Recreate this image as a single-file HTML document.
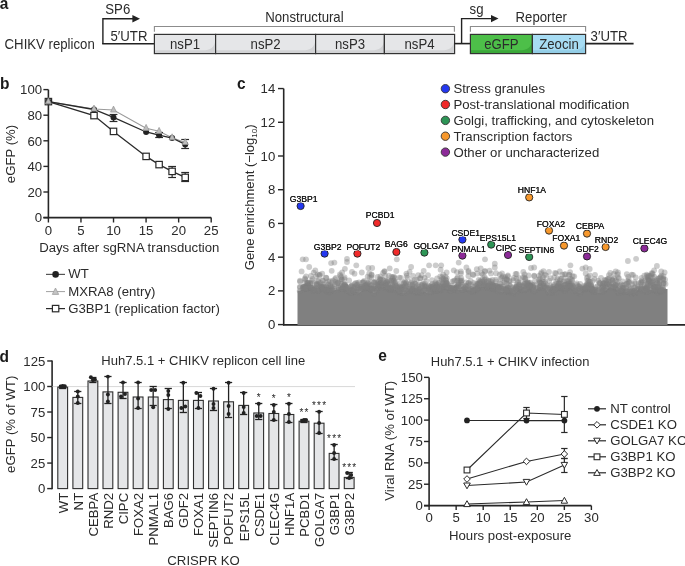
<!DOCTYPE html>
<html><head><meta charset="utf-8"><style>
html,body{margin:0;padding:0;background:#fff;}
svg{display:block;will-change:transform;font-family:"Liberation Sans",sans-serif;}
</style></head><body>
<svg width="685" height="566" viewBox="0 0 685 566">
<text transform="translate(-0.3,8.8) scale(1,1.012)" font-size="15.5" text-anchor="start" font-weight="bold" fill="#1a1a1a" >a</text>
<text transform="translate(4.6,48.6) scale(1,1.04)" font-size="13.2" text-anchor="start" font-weight="normal" fill="#2b2b2b" >CHIKV replicon</text>
<text transform="translate(105.3,14.2) scale(1,1.04)" font-size="13.2" text-anchor="start" font-weight="normal" fill="#2b2b2b" >SP6</text>
<path d="M102.9,44 V18.7 H134" stroke="#222" stroke-width="1.4" fill="none" />
<polygon points="132.4,14.9 140,18.7 132.4,22.4" fill="#222"/>
<text transform="translate(110.5,41.2) scale(1,1.04)" font-size="13.2" text-anchor="start" font-weight="normal" fill="#2b2b2b" >5′UTR</text>
<line x1="102.2" y1="43.7" x2="155" y2="43.7" stroke="#222" stroke-width="1.6" />
<path d="M154.4,31.8 V26.5 H454.4 V31.8" stroke="#8c8c8c" stroke-width="1.1" fill="none" />
<text transform="translate(265.2,21.7) scale(1,1.04)" font-size="13.2" text-anchor="start" font-weight="normal" fill="#2b2b2b" >Nonstructural</text>
<rect x="154.4" y="34.4" width="61.19999999999999" height="19.200000000000003" fill="#e5e6e8"/>
<path d="M154.4,50.2 H202.6 C210.6,50.2 214.6,47.6 215.6,38.9 V53.6 H154.4 Z" fill="#d2d3d5"/>
<rect x="154.4" y="34.4" width="61.19999999999999" height="19.200000000000003" fill="none" stroke="#333" stroke-width="1.2"/>
<text transform="translate(185.0,48.6) scale(1,1.04)" font-size="13.2" text-anchor="middle" font-weight="normal" fill="#2b2b2b" >nsP1</text>
<rect x="215.6" y="34.4" width="100.00000000000003" height="19.200000000000003" fill="#e5e6e8"/>
<path d="M215.6,50.2 H302.6 C310.6,50.2 314.6,47.6 315.6,38.9 V53.6 H215.6 Z" fill="#d2d3d5"/>
<rect x="215.6" y="34.4" width="100.00000000000003" height="19.200000000000003" fill="none" stroke="#333" stroke-width="1.2"/>
<text transform="translate(265.6,48.6) scale(1,1.04)" font-size="13.2" text-anchor="middle" font-weight="normal" fill="#2b2b2b" >nsP2</text>
<rect x="315.6" y="34.4" width="68.79999999999995" height="19.200000000000003" fill="#e5e6e8"/>
<path d="M315.6,50.2 H371.4 C379.4,50.2 383.4,47.6 384.4,38.9 V53.6 H315.6 Z" fill="#d2d3d5"/>
<rect x="315.6" y="34.4" width="68.79999999999995" height="19.200000000000003" fill="none" stroke="#333" stroke-width="1.2"/>
<text transform="translate(350.0,48.6) scale(1,1.04)" font-size="13.2" text-anchor="middle" font-weight="normal" fill="#2b2b2b" >nsP3</text>
<rect x="384.4" y="34.4" width="70.20000000000005" height="19.200000000000003" fill="#e5e6e8"/>
<path d="M384.4,50.2 H441.6 C449.6,50.2 453.6,47.6 454.6,38.9 V53.6 H384.4 Z" fill="#d2d3d5"/>
<rect x="384.4" y="34.4" width="70.20000000000005" height="19.200000000000003" fill="none" stroke="#333" stroke-width="1.2"/>
<text transform="translate(419.5,48.6) scale(1,1.04)" font-size="13.2" text-anchor="middle" font-weight="normal" fill="#2b2b2b" >nsP4</text>
<line x1="454.6" y1="43.6" x2="470.4" y2="43.6" stroke="#222" stroke-width="1.6" />
<path d="M461.6,43.6 V18.6 H492" stroke="#222" stroke-width="1.4" fill="none" />
<polygon points="491,15 498.5,18.6 491,22.2" fill="#222"/>
<text transform="translate(469.6,14.2) scale(1,1.04)" font-size="13.2" text-anchor="start" font-weight="normal" fill="#2b2b2b" >sg</text>
<path d="M470.4,31.8 V26.5 H585.6 V31.8" stroke="#8c8c8c" stroke-width="1.1" fill="none" />
<text transform="translate(515.6,21.7) scale(1,1.04)" font-size="13.2" text-anchor="start" font-weight="normal" fill="#2b2b2b" >Reporter</text>
<rect x="470.4" y="34.4" width="62.0" height="19.200000000000003" fill="#4dbf49"/>
<path d="M470.4,50.2 H519.4 C527.4,50.2 531.4,47.6 532.4,38.9 V53.6 H470.4 Z" fill="#3ba83a"/>
<rect x="470.4" y="34.4" width="62.0" height="19.200000000000003" fill="none" stroke="#333" stroke-width="1.2"/>
<text transform="translate(501.4,48.6) scale(1,1.04)" font-size="13.2" text-anchor="middle" font-weight="normal" fill="#2b2b2b" >eGFP</text>
<rect x="532.4" y="34.4" width="53.200000000000045" height="19.200000000000003" fill="#a7dcf3"/>
<path d="M532.4,50.2 H572.6 C580.6,50.2 584.6,47.6 585.6,38.9 V53.6 H532.4 Z" fill="#93cde6"/>
<rect x="532.4" y="34.4" width="53.200000000000045" height="19.200000000000003" fill="none" stroke="#333" stroke-width="1.2"/>
<text transform="translate(559.0,48.6) scale(1,1.04)" font-size="13.2" text-anchor="middle" font-weight="normal" fill="#2b2b2b" >Zeocin</text>
<line x1="585.6" y1="43.6" x2="633.6" y2="43.6" stroke="#222" stroke-width="1.6" />
<text transform="translate(590.6,40.8) scale(1,1.04)" font-size="13.2" text-anchor="start" font-weight="normal" fill="#2b2b2b" >3′UTR</text>
<text transform="translate(0,88.8) scale(1,1.012)" font-size="15.5" text-anchor="start" font-weight="bold" fill="#1a1a1a" >b</text>
<line x1="48.4" y1="89.6" x2="48.4" y2="218.3" stroke="#262626" stroke-width="1.6" />
<line x1="43.4" y1="217.6" x2="211.2" y2="217.6" stroke="#262626" stroke-width="1.6" />
<line x1="43.4" y1="217.6" x2="48.4" y2="217.6" stroke="#262626" stroke-width="1.4" />
<text transform="translate(42.1,222.4) scale(1,1.012)" font-size="13.2" text-anchor="end" font-weight="normal" fill="#2b2b2b" >0</text>
<line x1="43.4" y1="192.0" x2="48.4" y2="192.0" stroke="#262626" stroke-width="1.4" />
<text transform="translate(42.1,196.8) scale(1,1.012)" font-size="13.2" text-anchor="end" font-weight="normal" fill="#2b2b2b" >20</text>
<line x1="43.4" y1="166.39999999999998" x2="48.4" y2="166.39999999999998" stroke="#262626" stroke-width="1.4" />
<text transform="translate(42.1,171.2) scale(1,1.012)" font-size="13.2" text-anchor="end" font-weight="normal" fill="#2b2b2b" >40</text>
<line x1="43.4" y1="140.8" x2="48.4" y2="140.8" stroke="#262626" stroke-width="1.4" />
<text transform="translate(42.1,145.60000000000002) scale(1,1.012)" font-size="13.2" text-anchor="end" font-weight="normal" fill="#2b2b2b" >60</text>
<line x1="43.4" y1="115.19999999999999" x2="48.4" y2="115.19999999999999" stroke="#262626" stroke-width="1.4" />
<text transform="translate(42.1,119.99999999999999) scale(1,1.012)" font-size="13.2" text-anchor="end" font-weight="normal" fill="#2b2b2b" >80</text>
<line x1="43.4" y1="89.6" x2="48.4" y2="89.6" stroke="#262626" stroke-width="1.4" />
<text transform="translate(42.1,94.39999999999999) scale(1,1.012)" font-size="13.2" text-anchor="end" font-weight="normal" fill="#2b2b2b" >100</text>
<line x1="48.4" y1="217.6" x2="48.4" y2="222.5" stroke="#262626" stroke-width="1.4" />
<text transform="translate(48.4,234.6) scale(1,1.012)" font-size="13.2" text-anchor="middle" font-weight="normal" fill="#2b2b2b" >0</text>
<line x1="80.96" y1="217.6" x2="80.96" y2="222.5" stroke="#262626" stroke-width="1.4" />
<text transform="translate(80.96,234.6) scale(1,1.012)" font-size="13.2" text-anchor="middle" font-weight="normal" fill="#2b2b2b" >5</text>
<line x1="113.51999999999998" y1="217.6" x2="113.51999999999998" y2="222.5" stroke="#262626" stroke-width="1.4" />
<text transform="translate(113.51999999999998,234.6) scale(1,1.012)" font-size="13.2" text-anchor="middle" font-weight="normal" fill="#2b2b2b" >10</text>
<line x1="146.07999999999998" y1="217.6" x2="146.07999999999998" y2="222.5" stroke="#262626" stroke-width="1.4" />
<text transform="translate(146.07999999999998,234.6) scale(1,1.012)" font-size="13.2" text-anchor="middle" font-weight="normal" fill="#2b2b2b" >15</text>
<line x1="178.64" y1="217.6" x2="178.64" y2="222.5" stroke="#262626" stroke-width="1.4" />
<text transform="translate(178.64,234.6) scale(1,1.012)" font-size="13.2" text-anchor="middle" font-weight="normal" fill="#2b2b2b" >20</text>
<line x1="211.2" y1="217.6" x2="211.2" y2="222.5" stroke="#262626" stroke-width="1.4" />
<text transform="translate(211.2,234.6) scale(1,1.012)" font-size="13.2" text-anchor="middle" font-weight="normal" fill="#2b2b2b" >25</text>
<text transform="translate(129.3,251.7) scale(1,1.012)" font-size="13.2" text-anchor="middle" font-weight="normal" fill="#2b2b2b" >Days after sgRNA transduction</text>
<text transform="translate(15.3,154) rotate(-90) scale(1,1.012)" font-size="13.2" text-anchor="middle" fill="#2b2b2b">eGFP (%)</text>
<polyline points="48.4,101.6 94.0,109.0 113.5,110.0 146.1,128.3 159.1,131.3 172.1,137.7 185.2,142.4" fill="none" stroke="#9a9a9a" stroke-width="1.1"/>
<polyline points="48.4,101.6 94.0,109.5 113.5,117.4 146.1,132.0 159.1,135.2 172.1,138.0 185.2,144.4" fill="none" stroke="#2a2a2a" stroke-width="1.3"/>
<polyline points="48.4,101.6 94.0,115.6 113.5,131.4 146.1,156.4 159.1,164.6 172.1,171.4 185.2,177.4" fill="none" stroke="#2a2a2a" stroke-width="1.3"/>
<line x1="113.51999999999998" y1="114.5" x2="113.51999999999998" y2="121.5" stroke="#2a2a2a" stroke-width="1.2" />
<line x1="109.61999999999998" y1="114.5" x2="117.41999999999999" y2="114.5" stroke="#2a2a2a" stroke-width="1.2" />
<line x1="109.61999999999998" y1="121.5" x2="117.41999999999999" y2="121.5" stroke="#2a2a2a" stroke-width="1.2" />
<line x1="159.10399999999998" y1="132.5" x2="159.10399999999998" y2="137.5" stroke="#2a2a2a" stroke-width="1.2" />
<line x1="155.20399999999998" y1="132.5" x2="163.004" y2="132.5" stroke="#2a2a2a" stroke-width="1.2" />
<line x1="155.20399999999998" y1="137.5" x2="163.004" y2="137.5" stroke="#2a2a2a" stroke-width="1.2" />
<line x1="185.152" y1="139.5" x2="185.152" y2="148.5" stroke="#2a2a2a" stroke-width="1.2" />
<line x1="181.25199999999998" y1="139.5" x2="189.052" y2="139.5" stroke="#2a2a2a" stroke-width="1.2" />
<line x1="181.25199999999998" y1="148.5" x2="189.052" y2="148.5" stroke="#2a2a2a" stroke-width="1.2" />
<line x1="172.128" y1="166.5" x2="172.128" y2="177.5" stroke="#2a2a2a" stroke-width="1.2" />
<line x1="168.22799999999998" y1="166.5" x2="176.028" y2="166.5" stroke="#2a2a2a" stroke-width="1.2" />
<line x1="168.22799999999998" y1="177.5" x2="176.028" y2="177.5" stroke="#2a2a2a" stroke-width="1.2" />
<line x1="185.152" y1="172.5" x2="185.152" y2="181.5" stroke="#2a2a2a" stroke-width="1.2" />
<line x1="181.25199999999998" y1="172.5" x2="189.052" y2="172.5" stroke="#2a2a2a" stroke-width="1.2" />
<line x1="181.25199999999998" y1="181.5" x2="189.052" y2="181.5" stroke="#2a2a2a" stroke-width="1.2" />
<rect x="45.2" y="98.39999999999999" width="6.4" height="6.4" fill="#fff" stroke="#2a2a2a" stroke-width="1.2"/>
<rect x="90.8" y="112.39999999999999" width="6.4" height="6.4" fill="#fff" stroke="#2a2a2a" stroke-width="1.2"/>
<rect x="110.3" y="128.20000000000002" width="6.4" height="6.4" fill="#fff" stroke="#2a2a2a" stroke-width="1.2"/>
<rect x="142.9" y="153.20000000000002" width="6.4" height="6.4" fill="#fff" stroke="#2a2a2a" stroke-width="1.2"/>
<rect x="155.9" y="161.4" width="6.4" height="6.4" fill="#fff" stroke="#2a2a2a" stroke-width="1.2"/>
<rect x="168.9" y="168.20000000000002" width="6.4" height="6.4" fill="#fff" stroke="#2a2a2a" stroke-width="1.2"/>
<rect x="182.0" y="174.20000000000002" width="6.4" height="6.4" fill="#fff" stroke="#2a2a2a" stroke-width="1.2"/>
<circle cx="48.4" cy="101.6" r="3" fill="#222"/>
<circle cx="94.0" cy="109.5" r="3" fill="#222"/>
<circle cx="113.5" cy="117.4" r="3" fill="#222"/>
<circle cx="146.1" cy="132" r="3" fill="#222"/>
<circle cx="159.1" cy="135.2" r="3" fill="#222"/>
<circle cx="172.1" cy="138" r="3" fill="#222"/>
<circle cx="185.2" cy="144.4" r="3" fill="#222"/>
<polygon points="48.4,97.69999999999999 45.4,103.69999999999999 51.4,103.69999999999999" fill="#bdbdbd" stroke="#939393" stroke-width="0.7"/>
<polygon points="94.0,105.1 91.0,111.1 97.0,111.1" fill="#bdbdbd" stroke="#939393" stroke-width="0.7"/>
<polygon points="113.5,106.1 110.5,112.1 116.5,112.1" fill="#bdbdbd" stroke="#939393" stroke-width="0.7"/>
<polygon points="146.1,124.4 143.1,130.4 149.1,130.4" fill="#bdbdbd" stroke="#939393" stroke-width="0.7"/>
<polygon points="159.1,127.4 156.1,133.4 162.1,133.4" fill="#bdbdbd" stroke="#939393" stroke-width="0.7"/>
<polygon points="172.1,133.79999999999998 169.1,139.79999999999998 175.1,139.79999999999998" fill="#bdbdbd" stroke="#939393" stroke-width="0.7"/>
<polygon points="185.2,138.5 182.2,144.5 188.2,144.5" fill="#bdbdbd" stroke="#939393" stroke-width="0.7"/>
<line x1="46" y1="274.4" x2="65" y2="274.4" stroke="#555" stroke-width="1.2" />
<circle cx="55.6" cy="274.4" r="3.3" fill="#222"/>
<text transform="translate(68.2,278.2) scale(1,1.012)" font-size="13.2" text-anchor="start" font-weight="normal" fill="#2b2b2b" >WT</text>
<line x1="46" y1="291.6" x2="65" y2="291.6" stroke="#a0a0a0" stroke-width="1.0" />
<polygon points="55.5,288 52.3,294.4 58.7,294.4" fill="#c4c4c4" stroke="#979797" stroke-width="0.7"/>
<text transform="translate(68.2,295.6) scale(1,1.012)" font-size="13.2" text-anchor="start" font-weight="normal" fill="#2b2b2b" >MXRA8 (entry)</text>
<line x1="46" y1="308.6" x2="65" y2="308.6" stroke="#2a2a2a" stroke-width="1.2" />
<rect x="52.4" y="305.4" width="6.4" height="6.4" fill="#fff" stroke="#2a2a2a" stroke-width="1.2"/>
<text transform="translate(68.2,312.6) scale(1,1.012)" font-size="13.2" text-anchor="start" font-weight="normal" fill="#2b2b2b" >G3BP1 (replication factor)</text>
<text transform="translate(237,89.3) scale(1,1.012)" font-size="15.5" text-anchor="start" font-weight="bold" fill="#1a1a1a" >c</text>
<line x1="283.7" y1="88.6" x2="283.7" y2="325.4" stroke="#262626" stroke-width="1.6" />
<line x1="283" y1="324.9" x2="685" y2="324.9" stroke="#262626" stroke-width="1.6" />
<line x1="278" y1="324.6" x2="283.7" y2="324.6" stroke="#262626" stroke-width="1.4" />
<text transform="translate(275.3,329.20000000000005) scale(1,1.012)" font-size="13.2" text-anchor="end" font-weight="normal" fill="#2b2b2b" >0</text>
<line x1="278" y1="290.88" x2="283.7" y2="290.88" stroke="#262626" stroke-width="1.4" />
<text transform="translate(275.3,295.48) scale(1,1.012)" font-size="13.2" text-anchor="end" font-weight="normal" fill="#2b2b2b" >2</text>
<line x1="278" y1="257.16" x2="283.7" y2="257.16" stroke="#262626" stroke-width="1.4" />
<text transform="translate(275.3,261.76000000000005) scale(1,1.012)" font-size="13.2" text-anchor="end" font-weight="normal" fill="#2b2b2b" >4</text>
<line x1="278" y1="223.44000000000003" x2="283.7" y2="223.44000000000003" stroke="#262626" stroke-width="1.4" />
<text transform="translate(275.3,228.04000000000002) scale(1,1.012)" font-size="13.2" text-anchor="end" font-weight="normal" fill="#2b2b2b" >6</text>
<line x1="278" y1="189.72000000000003" x2="283.7" y2="189.72000000000003" stroke="#262626" stroke-width="1.4" />
<text transform="translate(275.3,194.32000000000002) scale(1,1.012)" font-size="13.2" text-anchor="end" font-weight="normal" fill="#2b2b2b" >8</text>
<line x1="278" y1="156.00000000000003" x2="283.7" y2="156.00000000000003" stroke="#262626" stroke-width="1.4" />
<text transform="translate(275.3,160.60000000000002) scale(1,1.012)" font-size="13.2" text-anchor="end" font-weight="normal" fill="#2b2b2b" >10</text>
<line x1="278" y1="122.28000000000003" x2="283.7" y2="122.28000000000003" stroke="#262626" stroke-width="1.4" />
<text transform="translate(275.3,126.88000000000002) scale(1,1.012)" font-size="13.2" text-anchor="end" font-weight="normal" fill="#2b2b2b" >12</text>
<line x1="278" y1="88.56000000000003" x2="283.7" y2="88.56000000000003" stroke="#262626" stroke-width="1.4" />
<text transform="translate(275.3,93.16000000000003) scale(1,1.012)" font-size="13.2" text-anchor="end" font-weight="normal" fill="#2b2b2b" >14</text>
<text transform="translate(253.6,270.2) rotate(-90) scale(1,1.012)" font-size="13" text-anchor="start" fill="#2b2b2b">Gene enrichment (−log<tspan font-size="8" dy="3.6">10</tspan><tspan dy="-3.6">)</tspan></text>
<g fill="#808080" fill-opacity="0.4">
<path d="M297.5,324.9 V290.4 L299.5,290.4 L301.5,290.1 L303.5,289.7 L305.5,289.4 L307.5,288.0 L309.5,287.2 L311.5,288.3 L313.5,289.9 L315.5,290.2 L317.5,290.1 L319.5,290.0 L321.5,289.8 L323.5,289.5 L325.5,289.7 L327.5,291.2 L329.5,292.2 L331.5,291.4 L333.5,290.2 L335.5,289.9 L337.5,289.4 L339.5,289.2 L341.5,288.8 L343.5,288.2 L345.5,288.6 L347.5,291.1 L349.5,292.8 L351.5,292.3 L353.5,291.5 L355.5,291.5 L357.5,292.3 L359.5,292.8 L361.5,291.1 L363.5,288.5 L365.5,288.0 L367.5,288.5 L369.5,288.7 L371.5,290.3 L373.5,292.7 L375.5,292.5 L377.5,289.0 L379.5,286.8 L381.5,286.8 L383.5,286.9 L385.5,287.1 L387.5,288.3 L389.5,289.0 L391.5,289.1 L393.5,289.2 L395.5,289.6 L397.5,291.3 L399.5,292.3 L401.5,292.7 L403.5,293.2 L405.5,292.9 L407.5,291.1 L409.5,289.8 L411.5,291.0 L413.5,292.7 L415.5,292.9 L417.5,292.4 L419.5,292.1 L421.5,292.0 L423.5,291.8 L425.5,291.9 L427.5,292.7 L429.5,293.2 L431.5,292.2 L433.5,290.6 L435.5,290.3 L437.5,290.4 L439.5,290.4 L441.5,289.5 L443.5,288.0 L445.5,288.0 L447.5,289.1 L449.5,289.9 L451.5,289.6 L453.5,289.2 L455.5,289.2 L457.5,289.7 L459.5,290.0 L461.5,289.7 L463.5,289.1 L465.5,289.1 L467.5,289.8 L469.5,290.3 L471.5,290.8 L473.5,291.4 L475.5,291.0 L477.5,288.4 L479.5,286.7 L481.5,286.7 L483.5,286.7 L485.5,286.8 L487.5,287.4 L489.5,287.7 L491.5,288.1 L493.5,288.5 L495.5,288.9 L497.5,290.4 L499.5,291.3 L501.5,291.5 L503.5,291.8 L505.5,291.8 L507.5,291.6 L509.5,291.5 L511.5,292.0 L513.5,292.8 L515.5,292.4 L517.5,289.9 L519.5,288.2 L521.5,289.1 L523.5,290.5 L525.5,290.4 L527.5,288.8 L529.5,287.7 L531.5,288.8 L533.5,290.5 L535.5,290.4 L537.5,288.3 L539.5,286.9 L541.5,287.2 L543.5,287.6 L545.5,288.3 L547.5,291.4 L549.5,293.4 L551.5,292.9 L553.5,292.1 L555.5,291.5 L557.5,288.9 L559.5,287.3 L561.5,288.3 L563.5,289.9 L565.5,289.9 L567.5,288.0 L569.5,286.8 L571.5,288.2 L573.5,290.3 L575.5,291.0 L577.5,292.1 L579.5,292.9 L581.5,291.6 L583.5,289.6 L585.5,289.1 L587.5,288.5 L589.5,288.2 L591.5,289.4 L593.5,291.2 L595.5,291.7 L597.5,292.4 L599.5,292.8 L601.5,292.2 L603.5,291.3 L605.5,290.7 L607.5,288.4 L609.5,286.9 L611.5,287.4 L613.5,288.2 L615.5,288.7 L617.5,291.1 L619.5,292.6 L621.5,292.3 L623.5,291.8 L625.5,291.8 L627.5,292.4 L629.5,292.7 L631.5,292.8 L633.5,293.0 L635.5,292.5 L637.5,289.8 L639.5,288.0 L641.5,289.5 L643.5,291.8 L645.5,291.9 L647.5,290.5 L649.5,289.6 L651.5,289.9 L653.5,290.3 L655.5,290.6 L657.5,291.5 L659.5,292.1 L661.5,290.8 L663.5,288.9 L665.5,288.9 L667.5,288.9 V324.9 Z" fill="#808080" fill-opacity="1"/>
<circle cx="377.5" cy="288.1" r="2.9"/>
<circle cx="582.3" cy="289.3" r="2.9"/>
<circle cx="408.0" cy="291.1" r="2.9"/>
<circle cx="332.5" cy="286.7" r="2.9"/>
<circle cx="388.4" cy="284.5" r="2.9"/>
<circle cx="435.5" cy="287.8" r="2.9"/>
<circle cx="650.5" cy="286.9" r="2.9"/>
<circle cx="509.8" cy="281.1" r="2.9"/>
<circle cx="366.4" cy="288.1" r="2.9"/>
<circle cx="632.0" cy="284.2" r="2.9"/>
<circle cx="390.8" cy="288.7" r="2.9"/>
<circle cx="570.1" cy="272.1" r="2.9"/>
<circle cx="371.5" cy="274.4" r="2.9"/>
<circle cx="622.4" cy="287.8" r="2.9"/>
<circle cx="453.8" cy="289.4" r="2.9"/>
<circle cx="313.7" cy="272.6" r="2.9"/>
<circle cx="386.8" cy="281.9" r="2.9"/>
<circle cx="393.6" cy="280.4" r="2.9"/>
<circle cx="517.8" cy="288.4" r="2.9"/>
<circle cx="363.7" cy="282.0" r="2.9"/>
<circle cx="324.7" cy="288.9" r="2.9"/>
<circle cx="504.2" cy="282.1" r="2.9"/>
<circle cx="524.3" cy="289.7" r="2.9"/>
<circle cx="635.3" cy="292.3" r="2.9"/>
<circle cx="305.6" cy="288.4" r="2.9"/>
<circle cx="462.6" cy="289.8" r="2.9"/>
<circle cx="364.0" cy="286.4" r="2.9"/>
<circle cx="508.9" cy="291.5" r="2.9"/>
<circle cx="432.0" cy="280.2" r="2.9"/>
<circle cx="658.4" cy="286.8" r="2.9"/>
<circle cx="552.5" cy="288.5" r="2.9"/>
<circle cx="350.9" cy="293.2" r="2.9"/>
<circle cx="306.0" cy="276.5" r="2.9"/>
<circle cx="556.1" cy="273.4" r="2.9"/>
<circle cx="307.3" cy="283.4" r="2.9"/>
<circle cx="476.0" cy="284.0" r="2.9"/>
<circle cx="327.0" cy="287.3" r="2.9"/>
<circle cx="569.2" cy="274.8" r="2.9"/>
<circle cx="569.3" cy="280.9" r="2.9"/>
<circle cx="589.8" cy="275.3" r="2.9"/>
<circle cx="428.3" cy="287.4" r="2.9"/>
<circle cx="629.2" cy="282.2" r="2.9"/>
<circle cx="452.2" cy="281.6" r="2.9"/>
<circle cx="615.5" cy="284.9" r="2.9"/>
<circle cx="528.2" cy="286.3" r="2.9"/>
<circle cx="512.8" cy="288.1" r="2.9"/>
<circle cx="328.9" cy="287.2" r="2.9"/>
<circle cx="663.1" cy="278.3" r="2.9"/>
<circle cx="566.0" cy="287.6" r="2.9"/>
<circle cx="568.5" cy="283.1" r="2.9"/>
<circle cx="460.7" cy="280.6" r="2.9"/>
<circle cx="330.2" cy="285.2" r="2.9"/>
<circle cx="310.4" cy="283.2" r="2.9"/>
<circle cx="475.5" cy="290.4" r="2.9"/>
<circle cx="555.1" cy="288.8" r="2.9"/>
<circle cx="524.4" cy="277.5" r="2.9"/>
<circle cx="393.1" cy="290.0" r="2.9"/>
<circle cx="409.7" cy="284.4" r="2.9"/>
<circle cx="373.6" cy="292.6" r="2.9"/>
<circle cx="631.0" cy="287.6" r="2.9"/>
<circle cx="461.2" cy="278.2" r="2.9"/>
<circle cx="419.2" cy="286.9" r="2.9"/>
<circle cx="372.2" cy="288.8" r="2.9"/>
<circle cx="594.5" cy="278.8" r="2.9"/>
<circle cx="621.7" cy="290.4" r="2.9"/>
<circle cx="512.9" cy="291.3" r="2.9"/>
<circle cx="349.3" cy="289.8" r="2.9"/>
<circle cx="605.9" cy="280.7" r="2.9"/>
<circle cx="559.8" cy="271.5" r="2.9"/>
<circle cx="400.8" cy="292.3" r="2.9"/>
<circle cx="464.4" cy="288.0" r="2.9"/>
<circle cx="377.9" cy="286.3" r="2.9"/>
<circle cx="528.5" cy="285.1" r="2.9"/>
<circle cx="414.9" cy="283.7" r="2.9"/>
<circle cx="658.9" cy="289.6" r="2.9"/>
<circle cx="326.8" cy="291.3" r="2.9"/>
<circle cx="619.0" cy="293.1" r="2.9"/>
<circle cx="558.9" cy="283.6" r="2.9"/>
<circle cx="412.6" cy="284.1" r="2.9"/>
<circle cx="306.5" cy="288.8" r="2.9"/>
<circle cx="466.0" cy="289.9" r="2.9"/>
<circle cx="603.2" cy="290.8" r="2.9"/>
<circle cx="351.1" cy="293.0" r="2.9"/>
<circle cx="529.8" cy="285.3" r="2.9"/>
<circle cx="530.1" cy="282.7" r="2.9"/>
<circle cx="595.0" cy="274.8" r="2.9"/>
<circle cx="550.0" cy="293.0" r="2.9"/>
<circle cx="473.4" cy="291.1" r="2.9"/>
<circle cx="303.4" cy="287.0" r="2.9"/>
<circle cx="560.9" cy="287.6" r="2.9"/>
<circle cx="399.2" cy="290.8" r="2.9"/>
<circle cx="554.7" cy="288.7" r="2.9"/>
<circle cx="524.4" cy="283.7" r="2.9"/>
<circle cx="443.5" cy="280.1" r="2.9"/>
<circle cx="631.2" cy="293.1" r="2.9"/>
<circle cx="640.8" cy="282.5" r="2.9"/>
<circle cx="347.0" cy="288.0" r="2.9"/>
<circle cx="528.5" cy="275.5" r="2.9"/>
<circle cx="437.4" cy="286.5" r="2.9"/>
<circle cx="621.3" cy="284.3" r="2.9"/>
<circle cx="645.1" cy="289.5" r="2.9"/>
<circle cx="537.9" cy="287.5" r="2.9"/>
<circle cx="563.7" cy="281.4" r="2.9"/>
<circle cx="534.3" cy="284.6" r="2.9"/>
<circle cx="377.6" cy="276.9" r="2.9"/>
<circle cx="496.0" cy="281.4" r="2.9"/>
<circle cx="416.8" cy="280.1" r="2.9"/>
<circle cx="612.7" cy="286.4" r="2.9"/>
<circle cx="329.8" cy="289.7" r="2.9"/>
<circle cx="500.9" cy="284.1" r="2.9"/>
<circle cx="477.9" cy="288.5" r="2.9"/>
<circle cx="595.6" cy="292.2" r="2.9"/>
<circle cx="592.2" cy="289.9" r="2.9"/>
<circle cx="422.1" cy="284.2" r="2.9"/>
<circle cx="350.9" cy="292.4" r="2.9"/>
<circle cx="488.5" cy="281.3" r="2.9"/>
<circle cx="606.9" cy="283.5" r="2.9"/>
<circle cx="645.6" cy="288.9" r="2.9"/>
<circle cx="646.9" cy="291.4" r="2.9"/>
<circle cx="380.5" cy="283.5" r="2.9"/>
<circle cx="405.7" cy="286.4" r="2.9"/>
<circle cx="533.3" cy="287.1" r="2.9"/>
<circle cx="608.3" cy="283.8" r="2.9"/>
<circle cx="413.6" cy="290.9" r="2.9"/>
<circle cx="608.9" cy="275.1" r="2.9"/>
<circle cx="375.7" cy="282.4" r="2.9"/>
<circle cx="653.9" cy="287.1" r="2.9"/>
<circle cx="509.2" cy="291.1" r="2.9"/>
<circle cx="495.6" cy="285.9" r="2.9"/>
<circle cx="521.0" cy="289.5" r="2.9"/>
<circle cx="654.3" cy="287.2" r="2.9"/>
<circle cx="446.1" cy="280.1" r="2.9"/>
<circle cx="505.5" cy="288.9" r="2.9"/>
<circle cx="552.4" cy="293.0" r="2.9"/>
<circle cx="496.7" cy="287.6" r="2.9"/>
<circle cx="649.7" cy="276.2" r="2.9"/>
<circle cx="398.0" cy="289.0" r="2.9"/>
<circle cx="346.0" cy="286.7" r="2.9"/>
<circle cx="598.1" cy="280.6" r="2.9"/>
<circle cx="473.9" cy="290.2" r="2.9"/>
<circle cx="369.6" cy="284.2" r="2.9"/>
<circle cx="638.1" cy="289.0" r="2.9"/>
<circle cx="584.7" cy="289.9" r="2.9"/>
<circle cx="370.5" cy="288.6" r="2.9"/>
<circle cx="551.0" cy="291.8" r="2.9"/>
<circle cx="429.6" cy="288.7" r="2.9"/>
<circle cx="337.9" cy="282.9" r="2.9"/>
<circle cx="344.4" cy="284.9" r="2.9"/>
<circle cx="391.2" cy="288.7" r="2.9"/>
<circle cx="493.6" cy="286.2" r="2.9"/>
<circle cx="437.0" cy="288.2" r="2.9"/>
<circle cx="493.2" cy="288.4" r="2.9"/>
<circle cx="374.3" cy="288.4" r="2.9"/>
<circle cx="533.2" cy="286.9" r="2.9"/>
<circle cx="611.1" cy="282.8" r="2.9"/>
<circle cx="613.1" cy="287.4" r="2.9"/>
<circle cx="570.6" cy="278.9" r="2.9"/>
<circle cx="629.9" cy="291.5" r="2.9"/>
<circle cx="414.8" cy="279.6" r="2.9"/>
<circle cx="624.3" cy="291.8" r="2.9"/>
<circle cx="387.1" cy="281.6" r="2.9"/>
<circle cx="394.5" cy="289.5" r="2.9"/>
<circle cx="604.1" cy="289.0" r="2.9"/>
<circle cx="588.6" cy="288.3" r="2.9"/>
<circle cx="446.9" cy="283.2" r="2.9"/>
<circle cx="306.0" cy="288.7" r="2.9"/>
<circle cx="549.3" cy="280.7" r="2.9"/>
<circle cx="653.9" cy="290.5" r="2.9"/>
<circle cx="484.6" cy="279.6" r="2.9"/>
<circle cx="483.5" cy="281.1" r="2.9"/>
<circle cx="368.7" cy="289.1" r="2.9"/>
<circle cx="338.4" cy="289.9" r="2.9"/>
<circle cx="501.4" cy="288.3" r="2.9"/>
<circle cx="507.7" cy="291.5" r="2.9"/>
<circle cx="367.0" cy="287.9" r="2.9"/>
<circle cx="638.7" cy="288.6" r="2.9"/>
<circle cx="322.2" cy="273.7" r="2.9"/>
<circle cx="468.6" cy="283.0" r="2.9"/>
<circle cx="419.1" cy="289.5" r="2.9"/>
<circle cx="488.1" cy="285.3" r="2.9"/>
<circle cx="519.4" cy="289.0" r="2.9"/>
<circle cx="556.1" cy="281.4" r="2.9"/>
<circle cx="365.8" cy="285.6" r="2.9"/>
<circle cx="570.1" cy="284.9" r="2.9"/>
<circle cx="370.9" cy="289.4" r="2.9"/>
<circle cx="487.1" cy="288.0" r="2.9"/>
<circle cx="626.4" cy="283.9" r="2.9"/>
<circle cx="557.4" cy="278.9" r="2.9"/>
<circle cx="529.9" cy="285.7" r="2.9"/>
<circle cx="519.0" cy="285.3" r="2.9"/>
<circle cx="659.2" cy="283.9" r="2.9"/>
<circle cx="394.0" cy="276.6" r="2.9"/>
<circle cx="572.0" cy="281.2" r="2.9"/>
<circle cx="597.7" cy="290.4" r="2.9"/>
<circle cx="627.6" cy="281.5" r="2.9"/>
<circle cx="553.8" cy="284.8" r="2.9"/>
<circle cx="579.6" cy="290.9" r="2.9"/>
<circle cx="564.0" cy="290.6" r="2.9"/>
<circle cx="424.6" cy="289.1" r="2.9"/>
<circle cx="303.4" cy="288.1" r="2.9"/>
<circle cx="533.3" cy="285.7" r="2.9"/>
<circle cx="384.5" cy="271.6" r="2.9"/>
<circle cx="543.3" cy="286.1" r="2.9"/>
<circle cx="541.0" cy="283.3" r="2.9"/>
<circle cx="494.6" cy="286.7" r="2.9"/>
<circle cx="665.5" cy="284.0" r="2.9"/>
<circle cx="556.2" cy="283.6" r="2.9"/>
<circle cx="658.2" cy="292.6" r="2.9"/>
<circle cx="524.7" cy="284.1" r="2.9"/>
<circle cx="393.4" cy="287.2" r="2.9"/>
<circle cx="318.0" cy="289.7" r="2.9"/>
<circle cx="437.0" cy="290.6" r="2.9"/>
<circle cx="391.3" cy="276.8" r="2.9"/>
<circle cx="500.8" cy="288.3" r="2.9"/>
<circle cx="653.5" cy="286.5" r="2.9"/>
<circle cx="663.7" cy="283.9" r="2.9"/>
<circle cx="595.8" cy="292.2" r="2.9"/>
<circle cx="518.2" cy="282.0" r="2.9"/>
<circle cx="316.0" cy="276.2" r="2.9"/>
<circle cx="358.0" cy="289.8" r="2.9"/>
<circle cx="361.4" cy="288.3" r="2.9"/>
<circle cx="523.2" cy="290.8" r="2.9"/>
<circle cx="645.5" cy="289.8" r="2.9"/>
<circle cx="492.3" cy="284.0" r="2.9"/>
<circle cx="433.3" cy="289.7" r="2.9"/>
<circle cx="539.3" cy="283.2" r="2.9"/>
<circle cx="403.3" cy="287.0" r="2.9"/>
<circle cx="407.9" cy="291.5" r="2.9"/>
<circle cx="389.2" cy="289.6" r="2.9"/>
<circle cx="356.8" cy="285.0" r="2.9"/>
<circle cx="442.2" cy="277.1" r="2.9"/>
<circle cx="573.4" cy="290.8" r="2.9"/>
<circle cx="661.4" cy="275.7" r="2.9"/>
<circle cx="326.4" cy="278.0" r="2.9"/>
<circle cx="456.7" cy="286.7" r="2.9"/>
<circle cx="655.7" cy="289.9" r="2.9"/>
<circle cx="491.0" cy="273.4" r="2.9"/>
<circle cx="564.0" cy="287.5" r="2.9"/>
<circle cx="657.7" cy="283.0" r="2.9"/>
<circle cx="520.4" cy="288.6" r="2.9"/>
<circle cx="528.0" cy="285.8" r="2.9"/>
<circle cx="374.0" cy="293.6" r="2.9"/>
<circle cx="492.8" cy="288.5" r="2.9"/>
<circle cx="461.6" cy="284.3" r="2.9"/>
<circle cx="466.2" cy="288.5" r="2.9"/>
<circle cx="512.6" cy="290.3" r="2.9"/>
<circle cx="584.2" cy="285.8" r="2.9"/>
<circle cx="664.6" cy="272.4" r="2.9"/>
<circle cx="568.2" cy="286.7" r="2.9"/>
<circle cx="341.2" cy="277.3" r="2.9"/>
<circle cx="586.6" cy="284.2" r="2.9"/>
<circle cx="431.0" cy="291.7" r="2.9"/>
<circle cx="550.2" cy="289.5" r="2.9"/>
<circle cx="516.1" cy="287.1" r="2.9"/>
<circle cx="575.2" cy="290.5" r="2.9"/>
<circle cx="634.7" cy="282.1" r="2.9"/>
<circle cx="314.0" cy="290.7" r="2.9"/>
<circle cx="398.7" cy="289.9" r="2.9"/>
<circle cx="527.6" cy="288.9" r="2.9"/>
<circle cx="497.7" cy="291.0" r="2.9"/>
<circle cx="331.1" cy="286.2" r="2.9"/>
<circle cx="501.0" cy="286.7" r="2.9"/>
<circle cx="436.1" cy="287.5" r="2.9"/>
<circle cx="376.6" cy="289.2" r="2.9"/>
<circle cx="572.1" cy="279.6" r="2.9"/>
<circle cx="326.7" cy="290.7" r="2.9"/>
<circle cx="595.7" cy="287.2" r="2.9"/>
<circle cx="580.9" cy="291.7" r="2.9"/>
<circle cx="454.8" cy="288.3" r="2.9"/>
<circle cx="595.9" cy="290.1" r="2.9"/>
<circle cx="418.6" cy="288.6" r="2.9"/>
<circle cx="572.6" cy="276.2" r="2.9"/>
<circle cx="456.0" cy="287.6" r="2.9"/>
<circle cx="335.0" cy="279.2" r="2.9"/>
<circle cx="328.2" cy="292.1" r="2.9"/>
<circle cx="506.0" cy="288.9" r="2.9"/>
<circle cx="550.3" cy="292.2" r="2.9"/>
<circle cx="583.3" cy="290.1" r="2.9"/>
<circle cx="377.6" cy="283.7" r="2.9"/>
<circle cx="329.4" cy="291.0" r="2.9"/>
<circle cx="564.8" cy="284.4" r="2.9"/>
<circle cx="403.0" cy="293.1" r="2.9"/>
<circle cx="430.5" cy="286.6" r="2.9"/>
<circle cx="433.6" cy="290.7" r="2.9"/>
<circle cx="559.1" cy="283.5" r="2.9"/>
<circle cx="635.7" cy="277.5" r="2.9"/>
<circle cx="633.8" cy="290.6" r="2.9"/>
<circle cx="593.4" cy="290.0" r="2.9"/>
<circle cx="415.7" cy="290.9" r="2.9"/>
<circle cx="641.6" cy="277.9" r="2.9"/>
<circle cx="390.4" cy="287.4" r="2.9"/>
<circle cx="433.3" cy="289.0" r="2.9"/>
<circle cx="444.3" cy="285.9" r="2.9"/>
<circle cx="370.9" cy="285.8" r="2.9"/>
<circle cx="591.2" cy="285.6" r="2.9"/>
<circle cx="605.6" cy="286.9" r="2.9"/>
<circle cx="364.1" cy="281.0" r="2.9"/>
<circle cx="621.9" cy="291.2" r="2.9"/>
<circle cx="307.6" cy="284.8" r="2.9"/>
<circle cx="498.7" cy="287.3" r="2.9"/>
<circle cx="653.2" cy="285.2" r="2.9"/>
<circle cx="593.9" cy="291.9" r="2.9"/>
<circle cx="499.6" cy="283.5" r="2.9"/>
<circle cx="330.3" cy="292.4" r="2.9"/>
<circle cx="569.3" cy="274.9" r="2.9"/>
<circle cx="330.5" cy="287.2" r="2.9"/>
<circle cx="352.2" cy="285.2" r="2.9"/>
<circle cx="537.0" cy="288.1" r="2.9"/>
<circle cx="380.2" cy="279.6" r="2.9"/>
<circle cx="490.4" cy="280.6" r="2.9"/>
<circle cx="443.8" cy="286.4" r="2.9"/>
<circle cx="653.9" cy="285.0" r="2.9"/>
<circle cx="480.2" cy="283.2" r="2.9"/>
<circle cx="563.4" cy="283.8" r="2.9"/>
<circle cx="634.4" cy="290.9" r="2.9"/>
<circle cx="601.9" cy="286.8" r="2.9"/>
<circle cx="611.9" cy="279.3" r="2.9"/>
<circle cx="604.7" cy="279.8" r="2.9"/>
<circle cx="650.0" cy="284.8" r="2.9"/>
<circle cx="491.2" cy="281.9" r="2.9"/>
<circle cx="593.1" cy="288.8" r="2.9"/>
<circle cx="453.4" cy="289.2" r="2.9"/>
<circle cx="436.9" cy="290.2" r="2.9"/>
<circle cx="374.3" cy="290.9" r="2.9"/>
<circle cx="406.4" cy="273.6" r="2.9"/>
<circle cx="321.2" cy="288.6" r="2.9"/>
<circle cx="341.5" cy="283.8" r="2.9"/>
<circle cx="583.5" cy="289.3" r="2.9"/>
<circle cx="322.3" cy="287.1" r="2.9"/>
<circle cx="513.3" cy="280.2" r="2.9"/>
<circle cx="312.8" cy="289.7" r="2.9"/>
<circle cx="367.0" cy="287.8" r="2.9"/>
<circle cx="385.7" cy="281.0" r="2.9"/>
<circle cx="517.2" cy="289.8" r="2.9"/>
<circle cx="367.2" cy="287.4" r="2.9"/>
<circle cx="362.6" cy="282.4" r="2.9"/>
<circle cx="413.6" cy="289.2" r="2.9"/>
<circle cx="598.6" cy="289.9" r="2.9"/>
<circle cx="394.8" cy="278.0" r="2.9"/>
<circle cx="634.1" cy="291.5" r="2.9"/>
<circle cx="499.8" cy="274.6" r="2.9"/>
<circle cx="476.1" cy="289.8" r="2.9"/>
<circle cx="317.7" cy="274.5" r="2.9"/>
<circle cx="592.8" cy="288.8" r="2.9"/>
<circle cx="492.6" cy="285.2" r="2.9"/>
<circle cx="540.2" cy="286.3" r="2.9"/>
<circle cx="303.5" cy="287.0" r="2.9"/>
<circle cx="435.5" cy="282.3" r="2.9"/>
<circle cx="560.6" cy="283.3" r="2.9"/>
<circle cx="357.1" cy="292.0" r="2.9"/>
<circle cx="417.3" cy="291.7" r="2.9"/>
<circle cx="617.6" cy="288.1" r="2.9"/>
<circle cx="397.0" cy="287.4" r="2.9"/>
<circle cx="354.6" cy="284.0" r="2.9"/>
<circle cx="300.0" cy="281.6" r="2.9"/>
<circle cx="609.2" cy="278.2" r="2.9"/>
<circle cx="329.7" cy="291.2" r="2.9"/>
<circle cx="561.7" cy="288.8" r="2.9"/>
<circle cx="475.2" cy="288.6" r="2.9"/>
<circle cx="649.2" cy="285.6" r="2.9"/>
<circle cx="613.3" cy="286.9" r="2.9"/>
<circle cx="588.4" cy="286.1" r="2.9"/>
<circle cx="635.0" cy="293.2" r="2.9"/>
<circle cx="601.9" cy="291.6" r="2.9"/>
<circle cx="498.4" cy="287.6" r="2.9"/>
<circle cx="357.2" cy="283.1" r="2.9"/>
<circle cx="413.5" cy="291.4" r="2.9"/>
<circle cx="327.3" cy="289.9" r="2.9"/>
<circle cx="470.5" cy="284.3" r="2.9"/>
<circle cx="431.2" cy="286.8" r="2.9"/>
<circle cx="338.2" cy="287.3" r="2.9"/>
<circle cx="468.5" cy="272.1" r="2.9"/>
<circle cx="603.2" cy="286.4" r="2.9"/>
<circle cx="304.0" cy="287.9" r="2.9"/>
<circle cx="559.4" cy="286.6" r="2.9"/>
<circle cx="506.0" cy="289.2" r="2.9"/>
<circle cx="592.1" cy="289.5" r="2.9"/>
<circle cx="525.0" cy="289.6" r="2.9"/>
<circle cx="437.1" cy="286.9" r="2.9"/>
<circle cx="408.6" cy="288.7" r="2.9"/>
<circle cx="443.0" cy="283.0" r="2.9"/>
<circle cx="393.4" cy="288.8" r="2.9"/>
<circle cx="567.2" cy="286.9" r="2.9"/>
<circle cx="645.4" cy="288.2" r="2.9"/>
<circle cx="564.4" cy="288.8" r="2.9"/>
<circle cx="602.1" cy="292.2" r="2.9"/>
<circle cx="351.0" cy="292.7" r="2.9"/>
<circle cx="547.5" cy="285.4" r="2.9"/>
<circle cx="365.3" cy="286.0" r="2.9"/>
<circle cx="605.8" cy="286.3" r="2.9"/>
<circle cx="332.5" cy="290.2" r="2.9"/>
<circle cx="357.0" cy="292.2" r="2.9"/>
<circle cx="448.4" cy="290.1" r="2.9"/>
<circle cx="636.4" cy="289.1" r="2.9"/>
<circle cx="486.7" cy="282.2" r="2.9"/>
<circle cx="580.2" cy="284.0" r="2.9"/>
<circle cx="440.8" cy="288.6" r="2.9"/>
<circle cx="450.3" cy="290.6" r="2.9"/>
<circle cx="446.2" cy="282.4" r="2.9"/>
<circle cx="658.9" cy="284.2" r="2.9"/>
<circle cx="541.1" cy="282.8" r="2.9"/>
<circle cx="306.3" cy="287.5" r="2.9"/>
<circle cx="424.8" cy="286.8" r="2.9"/>
<circle cx="338.4" cy="287.5" r="2.9"/>
<circle cx="485.9" cy="279.1" r="2.9"/>
<circle cx="601.5" cy="287.8" r="2.9"/>
<circle cx="357.5" cy="285.0" r="2.9"/>
<circle cx="630.0" cy="289.2" r="2.9"/>
<circle cx="428.5" cy="290.0" r="2.9"/>
<circle cx="351.4" cy="286.2" r="2.9"/>
<circle cx="660.7" cy="288.4" r="2.9"/>
<circle cx="561.3" cy="279.0" r="2.9"/>
<circle cx="371.7" cy="275.2" r="2.9"/>
<circle cx="529.0" cy="287.4" r="2.9"/>
<circle cx="330.0" cy="291.4" r="2.9"/>
<circle cx="510.5" cy="285.8" r="2.9"/>
<circle cx="420.0" cy="278.2" r="2.9"/>
<circle cx="431.7" cy="289.4" r="2.9"/>
<circle cx="344.9" cy="268.8" r="2.9"/>
<circle cx="349.1" cy="280.5" r="2.9"/>
<circle cx="498.4" cy="287.2" r="2.9"/>
<circle cx="504.6" cy="291.0" r="2.9"/>
<circle cx="598.7" cy="288.5" r="2.9"/>
<circle cx="344.4" cy="279.2" r="2.9"/>
<circle cx="405.1" cy="281.4" r="2.9"/>
<circle cx="387.7" cy="284.5" r="2.9"/>
<circle cx="603.6" cy="291.0" r="2.9"/>
<circle cx="500.0" cy="291.7" r="2.9"/>
<circle cx="311.2" cy="287.8" r="2.9"/>
<circle cx="660.7" cy="276.8" r="2.9"/>
<circle cx="540.5" cy="285.8" r="2.9"/>
<circle cx="545.2" cy="281.4" r="2.9"/>
<circle cx="439.2" cy="286.3" r="2.9"/>
<circle cx="593.7" cy="292.1" r="2.9"/>
<circle cx="372.5" cy="288.9" r="2.9"/>
<circle cx="351.8" cy="290.3" r="2.9"/>
<circle cx="507.9" cy="291.3" r="2.9"/>
<circle cx="489.7" cy="286.9" r="2.9"/>
<circle cx="507.4" cy="290.2" r="2.9"/>
<circle cx="534.4" cy="291.4" r="2.9"/>
<circle cx="545.1" cy="287.9" r="2.9"/>
<circle cx="650.6" cy="285.5" r="2.9"/>
<circle cx="471.5" cy="288.6" r="2.9"/>
<circle cx="527.8" cy="282.8" r="2.9"/>
<circle cx="576.9" cy="284.9" r="2.9"/>
<circle cx="606.3" cy="280.0" r="2.9"/>
<circle cx="449.2" cy="287.6" r="2.9"/>
<circle cx="506.6" cy="279.4" r="2.9"/>
<circle cx="492.0" cy="284.9" r="2.9"/>
<circle cx="457.7" cy="277.5" r="2.9"/>
<circle cx="416.9" cy="293.1" r="2.9"/>
<circle cx="565.1" cy="278.1" r="2.9"/>
<circle cx="567.4" cy="283.9" r="2.9"/>
<circle cx="574.7" cy="289.6" r="2.9"/>
<circle cx="516.7" cy="291.5" r="2.9"/>
<circle cx="345.0" cy="285.8" r="2.9"/>
<circle cx="483.5" cy="284.7" r="2.9"/>
<circle cx="318.5" cy="284.3" r="2.9"/>
<circle cx="492.1" cy="287.5" r="2.9"/>
<circle cx="411.6" cy="289.1" r="2.9"/>
<circle cx="385.8" cy="287.7" r="2.9"/>
<circle cx="633.0" cy="274.9" r="2.9"/>
<circle cx="543.1" cy="277.2" r="2.9"/>
<circle cx="453.7" cy="280.9" r="2.9"/>
<circle cx="380.7" cy="280.0" r="2.9"/>
<circle cx="507.0" cy="279.5" r="2.9"/>
<circle cx="335.6" cy="282.0" r="2.9"/>
<circle cx="344.8" cy="284.7" r="2.9"/>
<circle cx="647.6" cy="291.3" r="2.9"/>
<circle cx="388.8" cy="287.7" r="2.9"/>
<circle cx="418.4" cy="292.7" r="2.9"/>
<circle cx="627.1" cy="283.7" r="2.9"/>
<circle cx="444.9" cy="286.2" r="2.9"/>
<circle cx="513.8" cy="293.4" r="2.9"/>
<circle cx="310.9" cy="275.9" r="2.9"/>
<circle cx="412.2" cy="288.6" r="2.9"/>
<circle cx="472.5" cy="290.7" r="2.9"/>
<circle cx="407.6" cy="277.6" r="2.9"/>
<circle cx="627.7" cy="292.1" r="2.9"/>
<circle cx="606.2" cy="288.5" r="2.9"/>
<circle cx="472.4" cy="290.9" r="2.9"/>
<circle cx="373.4" cy="287.9" r="2.9"/>
<circle cx="369.6" cy="277.8" r="2.9"/>
<circle cx="317.8" cy="290.3" r="2.9"/>
<circle cx="565.1" cy="288.8" r="2.9"/>
<circle cx="629.0" cy="282.2" r="2.9"/>
<circle cx="560.5" cy="287.6" r="2.9"/>
<circle cx="554.2" cy="277.4" r="2.9"/>
<circle cx="462.4" cy="289.7" r="2.9"/>
<circle cx="381.2" cy="285.6" r="2.9"/>
<circle cx="559.6" cy="286.9" r="2.9"/>
<circle cx="365.8" cy="287.4" r="2.9"/>
<circle cx="542.7" cy="279.6" r="2.9"/>
<circle cx="435.8" cy="285.1" r="2.9"/>
<circle cx="623.2" cy="287.8" r="2.9"/>
<circle cx="383.3" cy="285.7" r="2.9"/>
<circle cx="638.7" cy="283.1" r="2.9"/>
<circle cx="400.8" cy="287.7" r="2.9"/>
<circle cx="460.7" cy="286.5" r="2.9"/>
<circle cx="493.8" cy="289.2" r="2.9"/>
<circle cx="519.0" cy="287.4" r="2.9"/>
<circle cx="391.3" cy="280.9" r="2.9"/>
<circle cx="331.4" cy="290.4" r="2.9"/>
<circle cx="576.1" cy="290.5" r="2.9"/>
<circle cx="401.7" cy="289.2" r="2.9"/>
<circle cx="367.7" cy="276.7" r="2.9"/>
<circle cx="661.0" cy="292.0" r="2.9"/>
<circle cx="468.5" cy="283.3" r="2.9"/>
<circle cx="440.3" cy="276.4" r="2.9"/>
<circle cx="482.5" cy="286.4" r="2.9"/>
<circle cx="503.0" cy="286.8" r="2.9"/>
<circle cx="431.1" cy="287.4" r="2.9"/>
<circle cx="586.1" cy="285.7" r="2.9"/>
<circle cx="484.6" cy="277.2" r="2.9"/>
<circle cx="549.9" cy="290.1" r="2.9"/>
<circle cx="647.8" cy="290.1" r="2.9"/>
<circle cx="584.9" cy="289.0" r="2.9"/>
<circle cx="522.1" cy="288.9" r="2.9"/>
<circle cx="460.7" cy="282.5" r="2.9"/>
<circle cx="587.4" cy="280.7" r="2.9"/>
<circle cx="385.9" cy="284.4" r="2.9"/>
<circle cx="380.5" cy="282.8" r="2.9"/>
<circle cx="482.1" cy="287.3" r="2.9"/>
<circle cx="517.9" cy="283.2" r="2.9"/>
<circle cx="509.1" cy="280.8" r="2.9"/>
<circle cx="365.4" cy="287.9" r="2.9"/>
<circle cx="306.0" cy="286.1" r="2.9"/>
<circle cx="458.6" cy="287.6" r="2.9"/>
<circle cx="395.7" cy="281.7" r="2.9"/>
<circle cx="326.0" cy="277.7" r="2.9"/>
<circle cx="507.7" cy="288.1" r="2.9"/>
<circle cx="589.2" cy="287.5" r="2.9"/>
<circle cx="353.0" cy="290.4" r="2.9"/>
<circle cx="315.0" cy="289.0" r="2.9"/>
<circle cx="526.9" cy="286.0" r="2.9"/>
<circle cx="396.4" cy="286.1" r="2.9"/>
<circle cx="331.9" cy="282.4" r="2.9"/>
<circle cx="362.3" cy="289.1" r="2.9"/>
<circle cx="358.0" cy="286.8" r="2.9"/>
<circle cx="603.6" cy="283.5" r="2.9"/>
<circle cx="321.9" cy="287.6" r="2.9"/>
<circle cx="432.9" cy="290.5" r="2.9"/>
<circle cx="654.7" cy="291.0" r="2.9"/>
<circle cx="478.7" cy="279.9" r="2.9"/>
<circle cx="660.4" cy="291.8" r="2.9"/>
<circle cx="466.1" cy="282.5" r="2.9"/>
<circle cx="313.9" cy="289.4" r="2.9"/>
<circle cx="625.3" cy="291.8" r="2.9"/>
<circle cx="443.3" cy="287.0" r="2.9"/>
<circle cx="454.8" cy="289.5" r="2.9"/>
<circle cx="578.9" cy="286.3" r="2.9"/>
<circle cx="383.6" cy="286.1" r="2.9"/>
<circle cx="501.5" cy="290.8" r="2.9"/>
<circle cx="468.4" cy="276.0" r="2.9"/>
<circle cx="432.7" cy="289.7" r="2.9"/>
<circle cx="658.6" cy="287.6" r="2.9"/>
<circle cx="314.0" cy="288.2" r="2.9"/>
<circle cx="537.3" cy="289.0" r="2.9"/>
<circle cx="425.1" cy="286.1" r="2.9"/>
<circle cx="615.9" cy="285.0" r="2.9"/>
<circle cx="623.9" cy="289.2" r="2.9"/>
<circle cx="443.3" cy="278.7" r="2.9"/>
<circle cx="439.0" cy="282.8" r="2.9"/>
<circle cx="378.3" cy="286.1" r="2.9"/>
<circle cx="366.7" cy="284.7" r="2.9"/>
<circle cx="359.5" cy="292.4" r="2.9"/>
<circle cx="378.0" cy="285.5" r="2.9"/>
<circle cx="412.4" cy="289.4" r="2.9"/>
<circle cx="663.1" cy="283.7" r="2.9"/>
<circle cx="615.3" cy="288.1" r="2.9"/>
<circle cx="439.7" cy="290.9" r="2.9"/>
<circle cx="552.5" cy="290.8" r="2.9"/>
<circle cx="400.0" cy="293.1" r="2.9"/>
<circle cx="366.1" cy="287.3" r="2.9"/>
<circle cx="443.3" cy="274.6" r="2.9"/>
<circle cx="561.3" cy="287.2" r="2.9"/>
<circle cx="431.7" cy="292.0" r="2.9"/>
<circle cx="642.3" cy="288.9" r="2.9"/>
<circle cx="579.7" cy="286.6" r="2.9"/>
<circle cx="631.5" cy="293.6" r="2.9"/>
<circle cx="417.4" cy="290.6" r="2.9"/>
<circle cx="329.9" cy="281.1" r="2.9"/>
<circle cx="418.5" cy="284.9" r="2.9"/>
<circle cx="489.6" cy="288.3" r="2.9"/>
<circle cx="443.7" cy="287.2" r="2.9"/>
<circle cx="314.4" cy="290.2" r="2.9"/>
<circle cx="517.4" cy="290.7" r="2.9"/>
<circle cx="413.8" cy="290.6" r="2.9"/>
<circle cx="498.6" cy="291.1" r="2.9"/>
<circle cx="558.1" cy="287.3" r="2.9"/>
<circle cx="565.0" cy="284.9" r="2.9"/>
<circle cx="353.4" cy="291.1" r="2.9"/>
<circle cx="402.1" cy="286.8" r="2.9"/>
<circle cx="447.8" cy="287.5" r="2.9"/>
<circle cx="616.4" cy="289.2" r="2.9"/>
<circle cx="406.4" cy="290.7" r="2.9"/>
<circle cx="378.5" cy="288.1" r="2.9"/>
<circle cx="308.5" cy="282.7" r="2.9"/>
<circle cx="506.6" cy="283.3" r="2.9"/>
<circle cx="656.6" cy="289.9" r="2.9"/>
<circle cx="544.9" cy="274.7" r="2.9"/>
<circle cx="378.6" cy="281.6" r="2.9"/>
<circle cx="543.5" cy="271.2" r="2.9"/>
<circle cx="617.3" cy="290.2" r="2.9"/>
<circle cx="531.0" cy="288.7" r="2.9"/>
<circle cx="456.0" cy="287.4" r="2.9"/>
<circle cx="321.5" cy="287.9" r="2.9"/>
<circle cx="419.6" cy="289.1" r="2.9"/>
<circle cx="401.9" cy="292.7" r="2.9"/>
<circle cx="446.8" cy="285.9" r="2.9"/>
<circle cx="360.5" cy="287.0" r="2.9"/>
<circle cx="387.3" cy="288.4" r="2.9"/>
<circle cx="424.6" cy="289.6" r="2.9"/>
<circle cx="354.7" cy="287.4" r="2.9"/>
<circle cx="556.2" cy="287.1" r="2.9"/>
<circle cx="555.8" cy="292.0" r="2.9"/>
<circle cx="442.7" cy="286.8" r="2.9"/>
<circle cx="322.5" cy="287.6" r="2.9"/>
<circle cx="319.5" cy="287.0" r="2.9"/>
<circle cx="513.9" cy="290.2" r="2.9"/>
<circle cx="418.6" cy="291.4" r="2.9"/>
<circle cx="308.1" cy="286.1" r="2.9"/>
<circle cx="625.9" cy="288.1" r="2.9"/>
<circle cx="395.4" cy="284.2" r="2.9"/>
<circle cx="367.6" cy="285.8" r="2.9"/>
<circle cx="524.7" cy="274.3" r="2.9"/>
<circle cx="432.2" cy="287.6" r="2.9"/>
<circle cx="644.4" cy="284.8" r="2.9"/>
<circle cx="529.1" cy="283.2" r="2.9"/>
<circle cx="449.9" cy="287.7" r="2.9"/>
<circle cx="400.6" cy="283.5" r="2.9"/>
<circle cx="621.5" cy="290.5" r="2.9"/>
<circle cx="632.4" cy="293.5" r="2.9"/>
<circle cx="349.2" cy="289.6" r="2.9"/>
<circle cx="412.5" cy="290.2" r="2.9"/>
<circle cx="657.1" cy="291.2" r="2.9"/>
<circle cx="369.9" cy="288.2" r="2.9"/>
<circle cx="548.4" cy="292.1" r="2.9"/>
<circle cx="299.8" cy="286.8" r="2.9"/>
<circle cx="443.7" cy="287.2" r="2.9"/>
<circle cx="480.2" cy="281.7" r="2.9"/>
<circle cx="500.1" cy="286.7" r="2.9"/>
<circle cx="504.7" cy="282.8" r="2.9"/>
<circle cx="654.1" cy="289.0" r="2.9"/>
<circle cx="426.4" cy="281.0" r="2.9"/>
<circle cx="414.2" cy="286.8" r="2.9"/>
<circle cx="554.0" cy="286.4" r="2.9"/>
<circle cx="652.3" cy="281.2" r="2.9"/>
<circle cx="357.9" cy="287.9" r="2.9"/>
<circle cx="479.1" cy="283.0" r="2.9"/>
<circle cx="434.7" cy="289.3" r="2.9"/>
<circle cx="573.6" cy="287.0" r="2.9"/>
<circle cx="386.3" cy="286.7" r="2.9"/>
<circle cx="418.4" cy="292.0" r="2.9"/>
<circle cx="487.5" cy="287.5" r="2.9"/>
<circle cx="322.6" cy="290.1" r="2.9"/>
<circle cx="336.9" cy="283.6" r="2.9"/>
<circle cx="340.8" cy="286.5" r="2.9"/>
<circle cx="582.1" cy="288.1" r="2.9"/>
<circle cx="359.0" cy="282.4" r="2.9"/>
<circle cx="617.9" cy="292.1" r="2.9"/>
<circle cx="392.4" cy="286.1" r="2.9"/>
<circle cx="591.0" cy="287.0" r="2.9"/>
<circle cx="561.5" cy="287.6" r="2.9"/>
<circle cx="561.5" cy="286.9" r="2.9"/>
<circle cx="421.7" cy="284.9" r="2.9"/>
<circle cx="607.9" cy="278.9" r="2.9"/>
<circle cx="507.2" cy="289.4" r="2.9"/>
<circle cx="558.2" cy="283.4" r="2.9"/>
<circle cx="603.6" cy="283.1" r="2.9"/>
<circle cx="345.3" cy="286.6" r="2.9"/>
<circle cx="544.5" cy="287.1" r="2.9"/>
<circle cx="367.1" cy="289.1" r="2.9"/>
<circle cx="513.8" cy="278.0" r="2.9"/>
<circle cx="654.7" cy="290.4" r="2.9"/>
<circle cx="551.2" cy="290.9" r="2.9"/>
<circle cx="530.6" cy="286.1" r="2.9"/>
<circle cx="317.3" cy="284.0" r="2.9"/>
<circle cx="342.8" cy="288.9" r="2.9"/>
<circle cx="404.2" cy="286.8" r="2.9"/>
<circle cx="663.2" cy="289.2" r="2.9"/>
<circle cx="420.3" cy="292.8" r="2.9"/>
<circle cx="498.1" cy="287.9" r="2.9"/>
<circle cx="436.2" cy="289.1" r="2.9"/>
<circle cx="592.5" cy="281.0" r="2.9"/>
<circle cx="403.3" cy="291.3" r="2.9"/>
<circle cx="525.6" cy="283.1" r="2.9"/>
<circle cx="658.5" cy="290.1" r="2.9"/>
<circle cx="553.5" cy="288.6" r="2.9"/>
<circle cx="592.4" cy="290.2" r="2.9"/>
<circle cx="363.6" cy="288.6" r="2.9"/>
<circle cx="641.2" cy="288.4" r="2.9"/>
<circle cx="478.2" cy="287.6" r="2.9"/>
<circle cx="418.0" cy="293.1" r="2.9"/>
<circle cx="506.6" cy="291.7" r="2.9"/>
<circle cx="528.4" cy="287.2" r="2.9"/>
<circle cx="382.8" cy="284.1" r="2.9"/>
<circle cx="433.4" cy="289.8" r="2.9"/>
<circle cx="318.3" cy="290.5" r="2.9"/>
<circle cx="626.2" cy="290.8" r="2.9"/>
<circle cx="328.2" cy="291.4" r="2.9"/>
<circle cx="373.5" cy="282.3" r="2.9"/>
<circle cx="476.7" cy="287.4" r="2.9"/>
<circle cx="594.9" cy="289.6" r="2.9"/>
<circle cx="320.6" cy="286.3" r="2.9"/>
<circle cx="539.9" cy="282.4" r="2.9"/>
<circle cx="400.9" cy="277.8" r="2.9"/>
<circle cx="461.7" cy="280.4" r="2.9"/>
<circle cx="564.8" cy="290.0" r="2.9"/>
<circle cx="309.3" cy="287.0" r="2.9"/>
<circle cx="343.0" cy="288.7" r="2.9"/>
<circle cx="430.9" cy="285.7" r="2.9"/>
<circle cx="413.0" cy="289.1" r="2.9"/>
<circle cx="303.3" cy="289.3" r="2.9"/>
<circle cx="650.6" cy="290.5" r="2.9"/>
<circle cx="492.5" cy="279.9" r="2.9"/>
<circle cx="589.5" cy="281.6" r="2.9"/>
<circle cx="445.6" cy="279.8" r="2.9"/>
<circle cx="602.4" cy="284.5" r="2.9"/>
<circle cx="660.4" cy="292.1" r="2.9"/>
<circle cx="647.3" cy="288.6" r="2.9"/>
<circle cx="557.6" cy="288.0" r="2.9"/>
<circle cx="632.4" cy="293.6" r="2.9"/>
<circle cx="510.6" cy="291.1" r="2.9"/>
<circle cx="441.7" cy="287.6" r="2.9"/>
<circle cx="539.9" cy="278.5" r="2.9"/>
<circle cx="433.0" cy="286.1" r="2.9"/>
<circle cx="429.1" cy="292.2" r="2.9"/>
<circle cx="630.8" cy="291.5" r="2.9"/>
<circle cx="334.0" cy="288.6" r="2.9"/>
<circle cx="570.9" cy="287.1" r="2.9"/>
<circle cx="571.5" cy="284.6" r="2.9"/>
<circle cx="548.5" cy="292.5" r="2.9"/>
<circle cx="338.2" cy="289.3" r="2.9"/>
<circle cx="427.7" cy="290.5" r="2.9"/>
<circle cx="303.0" cy="286.8" r="2.9"/>
<circle cx="447.1" cy="287.6" r="2.9"/>
<circle cx="496.1" cy="273.2" r="2.9"/>
<circle cx="374.4" cy="282.1" r="2.9"/>
<circle cx="416.9" cy="285.6" r="2.9"/>
<circle cx="456.9" cy="272.1" r="2.9"/>
<circle cx="379.9" cy="284.7" r="2.9"/>
<circle cx="557.9" cy="288.1" r="2.9"/>
<circle cx="399.6" cy="286.9" r="2.9"/>
<circle cx="646.4" cy="290.1" r="2.9"/>
<circle cx="366.6" cy="286.6" r="2.9"/>
<circle cx="661.6" cy="290.6" r="2.9"/>
<circle cx="531.8" cy="287.3" r="2.9"/>
<circle cx="535.2" cy="290.1" r="2.9"/>
<circle cx="525.1" cy="279.3" r="2.9"/>
<circle cx="612.9" cy="283.3" r="2.9"/>
<circle cx="484.3" cy="282.9" r="2.9"/>
<circle cx="341.3" cy="279.6" r="2.9"/>
<circle cx="552.0" cy="290.2" r="2.9"/>
<circle cx="543.1" cy="285.4" r="2.9"/>
<circle cx="440.3" cy="289.6" r="2.9"/>
<circle cx="519.3" cy="284.4" r="2.9"/>
<circle cx="488.1" cy="288.2" r="2.9"/>
<circle cx="529.1" cy="285.3" r="2.9"/>
<circle cx="516.7" cy="286.9" r="2.9"/>
<circle cx="640.5" cy="288.4" r="2.9"/>
<circle cx="569.6" cy="285.6" r="2.9"/>
<circle cx="446.7" cy="278.2" r="2.9"/>
<circle cx="479.2" cy="286.1" r="2.9"/>
<circle cx="607.0" cy="284.0" r="2.9"/>
<circle cx="642.7" cy="282.0" r="2.9"/>
<circle cx="591.4" cy="286.2" r="2.9"/>
<circle cx="663.2" cy="289.6" r="2.9"/>
<circle cx="618.0" cy="285.6" r="2.9"/>
<circle cx="391.3" cy="280.8" r="2.9"/>
<circle cx="465.7" cy="285.7" r="2.9"/>
<circle cx="616.3" cy="289.2" r="2.9"/>
<circle cx="401.8" cy="287.9" r="2.9"/>
<circle cx="326.4" cy="286.7" r="2.9"/>
<circle cx="587.6" cy="285.6" r="2.9"/>
<circle cx="388.0" cy="280.4" r="2.9"/>
<circle cx="612.4" cy="280.4" r="2.9"/>
<circle cx="500.5" cy="279.1" r="2.9"/>
<circle cx="591.1" cy="288.9" r="2.9"/>
<circle cx="433.4" cy="290.9" r="2.9"/>
<circle cx="313.0" cy="288.1" r="2.9"/>
<circle cx="616.0" cy="280.1" r="2.9"/>
<circle cx="342.5" cy="288.2" r="2.9"/>
<circle cx="441.7" cy="279.6" r="2.9"/>
<circle cx="525.3" cy="278.4" r="2.9"/>
<circle cx="375.2" cy="288.1" r="2.9"/>
<circle cx="620.3" cy="286.2" r="2.9"/>
<circle cx="371.6" cy="285.1" r="2.9"/>
<circle cx="457.2" cy="290.4" r="2.9"/>
<circle cx="423.8" cy="290.5" r="2.9"/>
<circle cx="530.0" cy="286.8" r="2.9"/>
<circle cx="520.2" cy="282.6" r="2.9"/>
<circle cx="365.6" cy="288.1" r="2.9"/>
<circle cx="553.4" cy="289.5" r="2.9"/>
<circle cx="346.8" cy="290.2" r="2.9"/>
<circle cx="643.9" cy="287.7" r="2.9"/>
<circle cx="430.4" cy="292.6" r="2.9"/>
<circle cx="663.6" cy="283.1" r="2.9"/>
<circle cx="569.0" cy="285.3" r="2.9"/>
<circle cx="413.1" cy="290.3" r="2.9"/>
<circle cx="353.0" cy="286.9" r="2.9"/>
<circle cx="454.9" cy="280.4" r="2.9"/>
<circle cx="449.2" cy="287.3" r="2.9"/>
<circle cx="484.9" cy="271.7" r="2.9"/>
<circle cx="426.3" cy="286.3" r="2.9"/>
<circle cx="385.5" cy="283.2" r="2.9"/>
<circle cx="403.8" cy="282.6" r="2.9"/>
<circle cx="404.4" cy="283.4" r="2.9"/>
<circle cx="547.2" cy="288.3" r="2.9"/>
<circle cx="641.2" cy="287.3" r="2.9"/>
<circle cx="571.5" cy="284.0" r="2.9"/>
<circle cx="463.6" cy="289.5" r="2.9"/>
<circle cx="452.9" cy="288.3" r="2.9"/>
<circle cx="460.9" cy="273.5" r="2.9"/>
<circle cx="406.7" cy="286.1" r="2.9"/>
<circle cx="545.5" cy="287.5" r="2.9"/>
<circle cx="450.1" cy="289.9" r="2.9"/>
<circle cx="627.2" cy="291.5" r="2.9"/>
<circle cx="453.5" cy="287.7" r="2.9"/>
<circle cx="599.8" cy="283.1" r="2.9"/>
<circle cx="515.7" cy="288.7" r="2.9"/>
<circle cx="335.9" cy="278.0" r="2.9"/>
<circle cx="331.8" cy="289.5" r="2.9"/>
<circle cx="436.6" cy="284.0" r="2.9"/>
<circle cx="544.4" cy="286.2" r="2.9"/>
<circle cx="628.1" cy="276.8" r="2.9"/>
<circle cx="308.0" cy="283.0" r="2.9"/>
<circle cx="471.2" cy="289.0" r="2.9"/>
<circle cx="469.6" cy="289.1" r="2.9"/>
<circle cx="545.0" cy="283.5" r="2.9"/>
<circle cx="662.8" cy="287.5" r="2.9"/>
<circle cx="602.8" cy="286.6" r="2.9"/>
<circle cx="323.9" cy="286.9" r="2.9"/>
<circle cx="446.4" cy="283.3" r="2.9"/>
<circle cx="376.2" cy="289.8" r="2.9"/>
<circle cx="351.8" cy="290.2" r="2.9"/>
<circle cx="571.0" cy="288.0" r="2.9"/>
<circle cx="360.6" cy="287.2" r="2.9"/>
<circle cx="527.5" cy="282.0" r="2.9"/>
<circle cx="392.2" cy="280.7" r="2.9"/>
<circle cx="567.0" cy="281.0" r="2.9"/>
<circle cx="343.3" cy="285.5" r="2.9"/>
<circle cx="305.3" cy="279.4" r="2.9"/>
<circle cx="645.2" cy="280.3" r="2.9"/>
<circle cx="308.4" cy="285.9" r="2.9"/>
<circle cx="495.6" cy="285.6" r="2.9"/>
<circle cx="340.2" cy="281.3" r="2.9"/>
<circle cx="409.9" cy="286.8" r="2.9"/>
<circle cx="345.1" cy="284.4" r="2.9"/>
<circle cx="347.0" cy="290.7" r="2.9"/>
<circle cx="487.0" cy="286.1" r="2.9"/>
<circle cx="584.1" cy="288.5" r="2.9"/>
<circle cx="451.0" cy="290.3" r="2.9"/>
<circle cx="379.2" cy="284.4" r="2.9"/>
<circle cx="503.8" cy="289.2" r="2.9"/>
<circle cx="610.9" cy="287.4" r="2.9"/>
<circle cx="610.6" cy="287.0" r="2.9"/>
<circle cx="654.6" cy="287.1" r="2.9"/>
<circle cx="448.3" cy="285.1" r="2.9"/>
<circle cx="615.7" cy="271.3" r="2.9"/>
<circle cx="450.8" cy="290.6" r="2.9"/>
<circle cx="355.8" cy="282.9" r="2.9"/>
<circle cx="568.3" cy="281.2" r="2.9"/>
<circle cx="356.8" cy="288.6" r="2.9"/>
<circle cx="309.9" cy="287.4" r="2.9"/>
<circle cx="409.6" cy="271.8" r="2.9"/>
<circle cx="534.9" cy="281.1" r="2.9"/>
<circle cx="316.4" cy="288.0" r="2.9"/>
<circle cx="328.2" cy="290.9" r="2.9"/>
<circle cx="340.4" cy="275.9" r="2.9"/>
<circle cx="419.8" cy="289.2" r="2.9"/>
<circle cx="538.9" cy="275.8" r="2.9"/>
<circle cx="645.9" cy="287.9" r="2.9"/>
<circle cx="482.8" cy="274.5" r="2.9"/>
<circle cx="443.9" cy="286.7" r="2.9"/>
<circle cx="570.1" cy="286.1" r="2.9"/>
<circle cx="434.1" cy="288.0" r="2.9"/>
<circle cx="474.0" cy="289.9" r="2.9"/>
<circle cx="457.1" cy="287.1" r="2.9"/>
<circle cx="317.6" cy="280.9" r="2.9"/>
<circle cx="322.1" cy="286.4" r="2.9"/>
<circle cx="499.9" cy="289.3" r="2.9"/>
<circle cx="381.0" cy="287.1" r="2.9"/>
<circle cx="435.6" cy="289.0" r="2.9"/>
<circle cx="476.6" cy="289.0" r="2.9"/>
<circle cx="573.8" cy="287.6" r="2.9"/>
<circle cx="302.8" cy="287.8" r="2.9"/>
<circle cx="653.2" cy="291.1" r="2.9"/>
<circle cx="516.7" cy="273.9" r="2.9"/>
<circle cx="433.3" cy="286.5" r="2.9"/>
<circle cx="434.5" cy="289.1" r="2.9"/>
<circle cx="522.5" cy="285.7" r="2.9"/>
<circle cx="414.8" cy="290.0" r="2.9"/>
<circle cx="488.4" cy="280.7" r="2.9"/>
<circle cx="318.9" cy="290.3" r="2.9"/>
<circle cx="391.7" cy="288.2" r="2.9"/>
<circle cx="590.7" cy="286.4" r="2.9"/>
<circle cx="614.3" cy="286.3" r="2.9"/>
<circle cx="404.1" cy="287.8" r="2.9"/>
<circle cx="603.8" cy="289.9" r="2.9"/>
<circle cx="415.7" cy="284.2" r="2.9"/>
<circle cx="588.0" cy="283.5" r="2.9"/>
<circle cx="320.3" cy="282.8" r="2.9"/>
<circle cx="317.0" cy="285.5" r="2.9"/>
<circle cx="501.6" cy="277.8" r="2.9"/>
<circle cx="533.3" cy="291.0" r="2.9"/>
<circle cx="641.5" cy="282.5" r="2.9"/>
<circle cx="511.7" cy="292.9" r="2.9"/>
<circle cx="569.2" cy="284.7" r="2.9"/>
<circle cx="635.0" cy="293.3" r="2.9"/>
<circle cx="585.5" cy="286.7" r="2.9"/>
<circle cx="574.6" cy="288.9" r="2.9"/>
<circle cx="463.4" cy="286.7" r="2.9"/>
<circle cx="342.7" cy="287.1" r="2.9"/>
<circle cx="568.4" cy="287.7" r="2.9"/>
<circle cx="341.9" cy="279.5" r="2.9"/>
<circle cx="543.3" cy="284.0" r="2.9"/>
<circle cx="340.9" cy="289.1" r="2.9"/>
<circle cx="413.0" cy="276.0" r="2.9"/>
<circle cx="504.5" cy="278.5" r="2.9"/>
<circle cx="376.8" cy="288.2" r="2.9"/>
<circle cx="495.8" cy="279.7" r="2.9"/>
<circle cx="344.6" cy="277.4" r="2.9"/>
<circle cx="472.4" cy="291.7" r="2.9"/>
<circle cx="457.6" cy="287.9" r="2.9"/>
<circle cx="546.3" cy="275.6" r="2.9"/>
<circle cx="480.2" cy="281.0" r="2.9"/>
<circle cx="441.5" cy="281.9" r="2.9"/>
<circle cx="338.0" cy="282.6" r="2.9"/>
<circle cx="360.4" cy="288.3" r="2.9"/>
<circle cx="373.5" cy="291.1" r="2.9"/>
<circle cx="359.5" cy="291.2" r="2.9"/>
<circle cx="516.0" cy="288.7" r="2.9"/>
<circle cx="441.7" cy="285.4" r="2.9"/>
<circle cx="607.8" cy="286.4" r="2.9"/>
<circle cx="513.2" cy="289.9" r="2.9"/>
<circle cx="658.4" cy="290.5" r="2.9"/>
<circle cx="554.8" cy="291.3" r="2.9"/>
<circle cx="395.1" cy="282.9" r="2.9"/>
<circle cx="509.9" cy="290.7" r="2.9"/>
<circle cx="323.0" cy="280.7" r="2.9"/>
<circle cx="437.7" cy="284.2" r="2.9"/>
<circle cx="457.9" cy="285.3" r="2.9"/>
<circle cx="632.4" cy="290.4" r="2.9"/>
<circle cx="477.7" cy="287.5" r="2.9"/>
<circle cx="575.1" cy="291.1" r="2.9"/>
<circle cx="411.7" cy="281.5" r="2.9"/>
<circle cx="312.3" cy="283.2" r="2.9"/>
<circle cx="507.4" cy="288.0" r="2.9"/>
<circle cx="421.4" cy="291.9" r="2.9"/>
<circle cx="647.5" cy="283.3" r="2.9"/>
<circle cx="594.4" cy="291.9" r="2.9"/>
<circle cx="586.5" cy="288.3" r="2.9"/>
<circle cx="372.4" cy="288.1" r="2.9"/>
<circle cx="522.7" cy="290.1" r="2.9"/>
<circle cx="579.4" cy="288.9" r="2.9"/>
<circle cx="628.7" cy="279.2" r="2.9"/>
<circle cx="551.8" cy="291.1" r="2.9"/>
<circle cx="647.6" cy="284.3" r="2.9"/>
<circle cx="406.0" cy="282.6" r="2.9"/>
<circle cx="565.5" cy="289.0" r="2.9"/>
<circle cx="390.7" cy="289.8" r="2.9"/>
<circle cx="496.1" cy="288.5" r="2.9"/>
<circle cx="406.8" cy="291.1" r="2.9"/>
<circle cx="347.6" cy="288.5" r="2.9"/>
<circle cx="399.3" cy="291.3" r="2.9"/>
<circle cx="401.1" cy="289.5" r="2.9"/>
<circle cx="619.3" cy="292.5" r="2.9"/>
<circle cx="614.1" cy="278.4" r="2.9"/>
<circle cx="522.5" cy="286.3" r="2.9"/>
<circle cx="568.1" cy="284.0" r="2.9"/>
<circle cx="541.0" cy="274.0" r="2.9"/>
<circle cx="583.2" cy="288.9" r="2.9"/>
<circle cx="319.4" cy="275.5" r="2.9"/>
<circle cx="432.2" cy="283.8" r="2.9"/>
<circle cx="384.9" cy="284.4" r="2.9"/>
<circle cx="435.1" cy="283.9" r="2.9"/>
<circle cx="644.9" cy="289.1" r="2.9"/>
<circle cx="506.7" cy="290.2" r="2.9"/>
<circle cx="384.5" cy="271.1" r="2.9"/>
<circle cx="339.9" cy="274.3" r="2.9"/>
<circle cx="540.0" cy="287.4" r="2.9"/>
<circle cx="629.5" cy="293.0" r="2.9"/>
<circle cx="506.4" cy="291.9" r="2.9"/>
<circle cx="661.4" cy="289.7" r="2.9"/>
<circle cx="618.7" cy="292.8" r="2.9"/>
<circle cx="543.4" cy="288.1" r="2.9"/>
<circle cx="310.4" cy="283.6" r="2.9"/>
<circle cx="659.2" cy="286.5" r="2.9"/>
<circle cx="612.5" cy="280.1" r="2.9"/>
<circle cx="490.3" cy="288.2" r="2.9"/>
<circle cx="492.4" cy="288.0" r="2.9"/>
<circle cx="492.3" cy="286.7" r="2.9"/>
<circle cx="482.1" cy="286.3" r="2.9"/>
<circle cx="557.5" cy="286.7" r="2.9"/>
<circle cx="477.3" cy="289.0" r="2.9"/>
<circle cx="477.7" cy="284.4" r="2.9"/>
<circle cx="655.4" cy="286.8" r="2.9"/>
<circle cx="348.9" cy="291.4" r="2.9"/>
<circle cx="422.3" cy="286.0" r="2.9"/>
<circle cx="647.2" cy="277.2" r="2.9"/>
<circle cx="613.8" cy="273.9" r="2.9"/>
<circle cx="306.9" cy="285.6" r="2.9"/>
<circle cx="515.7" cy="286.7" r="2.9"/>
<circle cx="523.8" cy="286.1" r="2.9"/>
<circle cx="641.1" cy="289.4" r="2.9"/>
<circle cx="489.5" cy="270.7" r="2.9"/>
<circle cx="311.2" cy="288.2" r="2.9"/>
<circle cx="617.6" cy="274.5" r="2.9"/>
<circle cx="308.3" cy="288.2" r="2.9"/>
<circle cx="603.2" cy="285.8" r="2.9"/>
<circle cx="489.7" cy="283.8" r="2.9"/>
<circle cx="576.7" cy="283.3" r="2.9"/>
<circle cx="299.7" cy="290.8" r="2.9"/>
<circle cx="604.5" cy="289.1" r="2.9"/>
<circle cx="422.3" cy="290.4" r="2.9"/>
<circle cx="305.0" cy="282.2" r="2.9"/>
<circle cx="395.5" cy="285.5" r="2.9"/>
<circle cx="492.1" cy="286.8" r="2.9"/>
<circle cx="546.5" cy="287.2" r="2.9"/>
<circle cx="385.3" cy="276.0" r="2.9"/>
<circle cx="363.8" cy="288.1" r="2.9"/>
<circle cx="392.3" cy="286.4" r="2.9"/>
<circle cx="586.3" cy="287.5" r="2.9"/>
<circle cx="386.7" cy="282.7" r="2.9"/>
<circle cx="394.7" cy="286.0" r="2.9"/>
<circle cx="392.8" cy="278.4" r="2.9"/>
<circle cx="367.0" cy="287.7" r="2.9"/>
<circle cx="409.8" cy="288.5" r="2.9"/>
<circle cx="565.4" cy="284.6" r="2.9"/>
<circle cx="588.8" cy="284.7" r="2.9"/>
<circle cx="328.3" cy="284.6" r="2.9"/>
<circle cx="389.0" cy="288.4" r="2.9"/>
<circle cx="435.2" cy="288.7" r="2.9"/>
<circle cx="441.2" cy="289.7" r="2.9"/>
<circle cx="588.5" cy="280.6" r="2.9"/>
<circle cx="423.3" cy="284.0" r="2.9"/>
<circle cx="438.4" cy="289.4" r="2.9"/>
<circle cx="516.6" cy="284.4" r="2.9"/>
<circle cx="473.7" cy="282.8" r="2.9"/>
<circle cx="304.6" cy="286.6" r="2.9"/>
<circle cx="438.7" cy="290.9" r="2.9"/>
<circle cx="634.2" cy="293.0" r="2.9"/>
<circle cx="374.7" cy="282.2" r="2.9"/>
<circle cx="651.0" cy="275.7" r="2.9"/>
<circle cx="424.6" cy="277.8" r="2.9"/>
<circle cx="351.4" cy="286.2" r="2.9"/>
<circle cx="645.6" cy="291.5" r="2.9"/>
<circle cx="349.2" cy="287.2" r="2.9"/>
<circle cx="622.5" cy="285.7" r="2.9"/>
<circle cx="646.9" cy="288.5" r="2.9"/>
<circle cx="435.8" cy="290.4" r="2.9"/>
<circle cx="399.4" cy="277.6" r="2.9"/>
<circle cx="325.7" cy="289.6" r="2.9"/>
<circle cx="426.7" cy="292.9" r="2.9"/>
<circle cx="411.8" cy="291.0" r="2.9"/>
<circle cx="344.4" cy="284.7" r="2.9"/>
<circle cx="497.3" cy="286.3" r="2.9"/>
<circle cx="578.5" cy="289.4" r="2.9"/>
<circle cx="646.1" cy="291.9" r="2.9"/>
<circle cx="381.1" cy="287.2" r="2.9"/>
<circle cx="412.7" cy="285.0" r="2.9"/>
<circle cx="637.8" cy="286.4" r="2.9"/>
<circle cx="358.2" cy="291.2" r="2.9"/>
<circle cx="507.5" cy="290.5" r="2.9"/>
<circle cx="589.7" cy="269.0" r="2.9"/>
<circle cx="467.8" cy="285.6" r="2.9"/>
<circle cx="609.1" cy="284.3" r="2.9"/>
<circle cx="369.3" cy="273.5" r="2.9"/>
<circle cx="657.4" cy="292.2" r="2.9"/>
<circle cx="578.6" cy="290.7" r="2.9"/>
<circle cx="318.5" cy="289.9" r="2.9"/>
<circle cx="362.8" cy="282.6" r="2.9"/>
<circle cx="376.9" cy="290.8" r="2.9"/>
<circle cx="379.9" cy="278.7" r="2.9"/>
<circle cx="482.2" cy="281.6" r="2.9"/>
<circle cx="469.7" cy="290.1" r="2.9"/>
<circle cx="305.1" cy="288.4" r="2.9"/>
<circle cx="314.7" cy="289.4" r="2.9"/>
<circle cx="526.0" cy="288.4" r="2.9"/>
<circle cx="472.6" cy="286.5" r="2.9"/>
<circle cx="415.6" cy="291.3" r="2.9"/>
<circle cx="623.0" cy="287.9" r="2.9"/>
<circle cx="452.1" cy="286.0" r="2.9"/>
<circle cx="468.0" cy="288.6" r="2.9"/>
<circle cx="633.9" cy="292.4" r="2.9"/>
<circle cx="642.0" cy="280.3" r="2.9"/>
<circle cx="622.3" cy="292.0" r="2.9"/>
<circle cx="405.1" cy="292.9" r="2.9"/>
<circle cx="564.3" cy="289.6" r="2.9"/>
<circle cx="513.1" cy="292.5" r="2.9"/>
<circle cx="646.3" cy="290.5" r="2.9"/>
<circle cx="335.0" cy="284.3" r="2.9"/>
<circle cx="426.5" cy="288.6" r="2.9"/>
<circle cx="481.5" cy="273.3" r="2.9"/>
<circle cx="487.7" cy="285.6" r="2.9"/>
<circle cx="300.1" cy="287.4" r="2.9"/>
<circle cx="398.0" cy="287.8" r="2.9"/>
<circle cx="530.8" cy="285.6" r="2.9"/>
<circle cx="332.4" cy="287.8" r="2.9"/>
<circle cx="475.8" cy="285.8" r="2.9"/>
<circle cx="654.6" cy="289.4" r="2.9"/>
<circle cx="461.5" cy="290.0" r="2.9"/>
<circle cx="592.3" cy="289.5" r="2.9"/>
<circle cx="602.9" cy="283.5" r="2.9"/>
<circle cx="392.7" cy="277.1" r="2.9"/>
<circle cx="483.9" cy="284.4" r="2.9"/>
<circle cx="502.7" cy="276.3" r="2.9"/>
<circle cx="478.8" cy="284.1" r="2.9"/>
<circle cx="405.9" cy="283.3" r="2.9"/>
<circle cx="483.6" cy="285.2" r="2.9"/>
<circle cx="371.4" cy="289.7" r="2.9"/>
<circle cx="604.8" cy="282.9" r="2.9"/>
<circle cx="657.7" cy="278.6" r="2.9"/>
<circle cx="550.3" cy="285.3" r="2.9"/>
<circle cx="560.0" cy="279.0" r="2.9"/>
<circle cx="592.8" cy="290.4" r="2.9"/>
<circle cx="597.7" cy="291.3" r="2.9"/>
<circle cx="388.8" cy="275.7" r="2.9"/>
<circle cx="307.9" cy="284.6" r="2.9"/>
<circle cx="425.1" cy="283.9" r="2.9"/>
<circle cx="522.9" cy="277.5" r="2.9"/>
<circle cx="640.8" cy="283.8" r="2.9"/>
<circle cx="323.1" cy="284.3" r="2.9"/>
<circle cx="618.4" cy="290.9" r="2.9"/>
<circle cx="367.5" cy="282.7" r="2.9"/>
<circle cx="527.5" cy="288.9" r="2.9"/>
<circle cx="565.5" cy="290.4" r="2.9"/>
<circle cx="617.1" cy="283.3" r="2.9"/>
<circle cx="586.9" cy="278.0" r="2.9"/>
<circle cx="507.8" cy="276.4" r="2.9"/>
<circle cx="533.4" cy="287.5" r="2.9"/>
<circle cx="440.2" cy="288.7" r="2.9"/>
<circle cx="307.9" cy="287.7" r="2.9"/>
<circle cx="590.7" cy="288.1" r="2.9"/>
<circle cx="538.7" cy="279.7" r="2.9"/>
<circle cx="553.7" cy="288.9" r="2.9"/>
<circle cx="415.1" cy="292.0" r="2.9"/>
<circle cx="368.1" cy="283.6" r="2.9"/>
<circle cx="550.7" cy="278.2" r="2.9"/>
<circle cx="420.5" cy="278.4" r="2.9"/>
<circle cx="633.1" cy="291.9" r="2.9"/>
<circle cx="647.9" cy="285.7" r="2.9"/>
<circle cx="651.8" cy="282.5" r="2.9"/>
<circle cx="421.5" cy="291.0" r="2.9"/>
<circle cx="490.8" cy="285.0" r="2.9"/>
<circle cx="312.5" cy="278.9" r="2.9"/>
<circle cx="495.5" cy="286.2" r="2.9"/>
<circle cx="572.0" cy="288.0" r="2.9"/>
<circle cx="372.4" cy="287.5" r="2.9"/>
<circle cx="387.8" cy="287.1" r="2.9"/>
<circle cx="325.1" cy="290.1" r="2.9"/>
<circle cx="429.5" cy="289.9" r="2.9"/>
<circle cx="646.8" cy="286.2" r="2.9"/>
<circle cx="451.2" cy="287.6" r="2.9"/>
<circle cx="385.7" cy="284.5" r="2.9"/>
<circle cx="650.5" cy="289.8" r="2.9"/>
<circle cx="458.0" cy="284.2" r="2.9"/>
<circle cx="578.5" cy="289.0" r="2.9"/>
<circle cx="534.2" cy="276.1" r="2.9"/>
<circle cx="629.8" cy="292.0" r="2.9"/>
<circle cx="492.6" cy="288.0" r="2.9"/>
<circle cx="579.9" cy="293.4" r="2.9"/>
<circle cx="354.5" cy="287.7" r="2.9"/>
<circle cx="399.3" cy="286.1" r="2.9"/>
<circle cx="565.5" cy="288.6" r="2.9"/>
<circle cx="580.2" cy="287.8" r="2.9"/>
<circle cx="557.9" cy="285.9" r="2.9"/>
<circle cx="457.8" cy="290.0" r="2.9"/>
<circle cx="473.3" cy="275.0" r="2.9"/>
<circle cx="624.7" cy="292.3" r="2.9"/>
<circle cx="325.5" cy="288.8" r="2.9"/>
<circle cx="553.7" cy="289.7" r="2.9"/>
<circle cx="346.3" cy="287.2" r="2.9"/>
<circle cx="509.3" cy="284.7" r="2.9"/>
<circle cx="447.0" cy="283.8" r="2.9"/>
<circle cx="548.9" cy="288.7" r="2.9"/>
<circle cx="316.5" cy="284.1" r="2.9"/>
<circle cx="346.6" cy="290.3" r="2.9"/>
<circle cx="472.9" cy="292.0" r="2.9"/>
<circle cx="326.2" cy="288.2" r="2.9"/>
<circle cx="471.0" cy="290.8" r="2.9"/>
<circle cx="648.6" cy="280.1" r="2.9"/>
<circle cx="477.6" cy="284.1" r="2.9"/>
<circle cx="343.4" cy="287.0" r="2.9"/>
<circle cx="380.4" cy="276.5" r="2.9"/>
<circle cx="485.7" cy="284.8" r="2.9"/>
<circle cx="445.5" cy="276.7" r="2.9"/>
<circle cx="393.7" cy="281.4" r="2.9"/>
<circle cx="558.7" cy="285.2" r="2.9"/>
<circle cx="433.4" cy="288.3" r="2.9"/>
<circle cx="465.3" cy="287.8" r="2.9"/>
<circle cx="527.8" cy="286.4" r="2.9"/>
<circle cx="410.7" cy="282.9" r="2.9"/>
<circle cx="466.1" cy="286.5" r="2.9"/>
<circle cx="621.4" cy="289.8" r="2.9"/>
<circle cx="437.1" cy="278.5" r="2.9"/>
<circle cx="656.9" cy="283.5" r="2.9"/>
<circle cx="446.4" cy="283.1" r="2.9"/>
<circle cx="570.7" cy="286.2" r="2.9"/>
<circle cx="564.5" cy="274.4" r="2.9"/>
<circle cx="539.5" cy="281.6" r="2.9"/>
<circle cx="458.7" cy="284.9" r="2.9"/>
<circle cx="382.2" cy="279.5" r="2.9"/>
<circle cx="424.6" cy="285.7" r="2.9"/>
<circle cx="305.6" cy="287.2" r="2.9"/>
<circle cx="580.0" cy="292.0" r="2.9"/>
<circle cx="524.1" cy="290.1" r="2.9"/>
<circle cx="371.5" cy="277.5" r="2.9"/>
<circle cx="321.4" cy="285.8" r="2.9"/>
<circle cx="600.1" cy="283.5" r="2.9"/>
<circle cx="442.7" cy="284.4" r="2.9"/>
<circle cx="560.1" cy="280.3" r="2.9"/>
<circle cx="572.8" cy="285.7" r="2.9"/>
<circle cx="391.6" cy="283.1" r="2.9"/>
<circle cx="504.9" cy="288.3" r="2.9"/>
<circle cx="660.8" cy="291.6" r="2.9"/>
<circle cx="585.2" cy="287.8" r="2.9"/>
<circle cx="565.4" cy="274.1" r="2.9"/>
<circle cx="399.9" cy="288.6" r="2.9"/>
<circle cx="492.9" cy="285.4" r="2.9"/>
<circle cx="360.6" cy="287.5" r="2.9"/>
<circle cx="626.5" cy="286.9" r="2.9"/>
<circle cx="405.3" cy="284.8" r="2.9"/>
<circle cx="453.2" cy="289.2" r="2.9"/>
<circle cx="521.2" cy="286.3" r="2.9"/>
<circle cx="507.9" cy="275.3" r="2.9"/>
<circle cx="428.6" cy="286.0" r="2.9"/>
<circle cx="327.1" cy="289.7" r="2.9"/>
<circle cx="552.7" cy="286.7" r="2.9"/>
<circle cx="602.7" cy="289.8" r="2.9"/>
<circle cx="399.6" cy="290.7" r="2.9"/>
<circle cx="496.2" cy="290.0" r="2.9"/>
<circle cx="436.6" cy="285.2" r="2.9"/>
<circle cx="353.9" cy="290.2" r="2.9"/>
<circle cx="618.9" cy="278.2" r="2.9"/>
<circle cx="390.9" cy="288.8" r="2.9"/>
<circle cx="342.6" cy="288.8" r="2.9"/>
<circle cx="590.1" cy="281.7" r="2.9"/>
<circle cx="396.3" cy="287.3" r="2.9"/>
<circle cx="554.0" cy="292.7" r="2.9"/>
<circle cx="599.2" cy="282.7" r="2.9"/>
<circle cx="376.8" cy="284.3" r="2.9"/>
<circle cx="555.4" cy="290.1" r="2.9"/>
<circle cx="621.0" cy="291.9" r="2.9"/>
<circle cx="473.0" cy="290.0" r="2.9"/>
<circle cx="461.2" cy="281.3" r="2.9"/>
<circle cx="508.1" cy="287.1" r="2.9"/>
<circle cx="660.7" cy="291.0" r="2.9"/>
<circle cx="381.0" cy="282.3" r="2.9"/>
<circle cx="354.5" cy="273.7" r="2.9"/>
<circle cx="424.4" cy="289.4" r="2.9"/>
<circle cx="457.3" cy="280.7" r="2.9"/>
<circle cx="634.5" cy="287.6" r="2.9"/>
<circle cx="362.2" cy="288.4" r="2.9"/>
<circle cx="558.0" cy="287.7" r="2.9"/>
<circle cx="622.6" cy="281.4" r="2.9"/>
<circle cx="382.4" cy="285.2" r="2.9"/>
<circle cx="383.2" cy="280.7" r="2.9"/>
<circle cx="316.7" cy="284.4" r="2.9"/>
<circle cx="322.4" cy="280.3" r="2.9"/>
<circle cx="498.3" cy="286.9" r="2.9"/>
<circle cx="334.3" cy="290.6" r="2.9"/>
<circle cx="519.1" cy="278.1" r="2.9"/>
<circle cx="322.4" cy="289.9" r="2.9"/>
<circle cx="307.2" cy="282.5" r="2.9"/>
<circle cx="364.1" cy="287.1" r="2.9"/>
<circle cx="543.6" cy="281.9" r="2.9"/>
<circle cx="417.5" cy="289.8" r="2.9"/>
<circle cx="405.3" cy="289.3" r="2.9"/>
<circle cx="429.7" cy="291.5" r="2.9"/>
<circle cx="390.6" cy="288.0" r="2.9"/>
<circle cx="395.0" cy="290.1" r="2.9"/>
<circle cx="413.1" cy="288.3" r="2.9"/>
<circle cx="397.8" cy="291.7" r="2.9"/>
<circle cx="609.1" cy="284.3" r="2.9"/>
<circle cx="486.8" cy="285.9" r="2.9"/>
<circle cx="624.2" cy="284.8" r="2.9"/>
<circle cx="527.4" cy="283.7" r="2.9"/>
<circle cx="552.9" cy="289.3" r="2.9"/>
<circle cx="450.7" cy="287.9" r="2.9"/>
<circle cx="484.0" cy="284.0" r="2.9"/>
<circle cx="493.1" cy="285.1" r="2.9"/>
<circle cx="588.1" cy="276.8" r="2.9"/>
<circle cx="381.5" cy="287.5" r="2.9"/>
<circle cx="409.7" cy="290.5" r="2.9"/>
<circle cx="591.0" cy="284.3" r="2.9"/>
<circle cx="404.0" cy="292.9" r="2.9"/>
<circle cx="617.4" cy="281.8" r="2.9"/>
<circle cx="549.7" cy="287.7" r="2.9"/>
<circle cx="572.0" cy="286.2" r="2.9"/>
<circle cx="444.9" cy="284.1" r="2.9"/>
<circle cx="635.1" cy="283.6" r="2.9"/>
<circle cx="326.7" cy="289.8" r="2.9"/>
<circle cx="654.9" cy="286.9" r="2.9"/>
<circle cx="487.9" cy="286.3" r="2.9"/>
<circle cx="615.0" cy="285.2" r="2.9"/>
<circle cx="662.0" cy="290.7" r="2.9"/>
<circle cx="663.0" cy="290.0" r="2.9"/>
<circle cx="353.8" cy="289.5" r="2.9"/>
<circle cx="533.6" cy="290.7" r="2.9"/>
<circle cx="505.3" cy="277.1" r="2.9"/>
<circle cx="458.9" cy="282.8" r="2.9"/>
<circle cx="516.1" cy="287.7" r="2.9"/>
<circle cx="362.9" cy="286.5" r="2.9"/>
<circle cx="629.0" cy="287.3" r="2.9"/>
<circle cx="378.8" cy="284.6" r="2.9"/>
<circle cx="498.4" cy="289.5" r="2.9"/>
<circle cx="511.0" cy="287.1" r="2.9"/>
<circle cx="306.0" cy="288.5" r="2.9"/>
<circle cx="539.8" cy="286.5" r="2.9"/>
<circle cx="326.1" cy="283.0" r="2.9"/>
<circle cx="421.7" cy="275.2" r="2.9"/>
<circle cx="504.0" cy="292.1" r="2.9"/>
<circle cx="532.6" cy="288.9" r="2.9"/>
<circle cx="597.6" cy="286.1" r="2.9"/>
<circle cx="577.1" cy="292.4" r="2.9"/>
<circle cx="312.0" cy="280.7" r="2.9"/>
<circle cx="350.9" cy="292.1" r="2.9"/>
<circle cx="310.4" cy="287.3" r="2.9"/>
<circle cx="472.8" cy="274.4" r="2.9"/>
<circle cx="417.1" cy="291.7" r="2.9"/>
<circle cx="602.5" cy="291.4" r="2.9"/>
<circle cx="532.0" cy="284.7" r="2.9"/>
<circle cx="641.8" cy="290.5" r="2.9"/>
<circle cx="505.6" cy="290.0" r="2.9"/>
<circle cx="601.0" cy="291.7" r="2.9"/>
<circle cx="561.2" cy="287.8" r="2.9"/>
<circle cx="480.7" cy="268.3" r="2.9"/>
<circle cx="387.3" cy="287.2" r="2.9"/>
<circle cx="635.3" cy="287.3" r="2.9"/>
<circle cx="323.6" cy="289.2" r="2.9"/>
<circle cx="386.3" cy="286.5" r="2.9"/>
<circle cx="608.6" cy="281.4" r="2.9"/>
<circle cx="658.1" cy="286.5" r="2.9"/>
<circle cx="529.3" cy="285.9" r="2.9"/>
<circle cx="562.1" cy="285.9" r="2.9"/>
<circle cx="321.1" cy="286.9" r="2.9"/>
<circle cx="440.1" cy="287.0" r="2.9"/>
<circle cx="317.3" cy="290.8" r="2.9"/>
<circle cx="659.2" cy="290.4" r="2.9"/>
<circle cx="420.3" cy="292.1" r="2.9"/>
<circle cx="516.4" cy="278.6" r="2.9"/>
<circle cx="365.5" cy="285.0" r="2.9"/>
<circle cx="482.4" cy="279.5" r="2.9"/>
<circle cx="506.3" cy="291.1" r="2.9"/>
<circle cx="368.9" cy="282.4" r="2.9"/>
<circle cx="328.1" cy="281.4" r="2.9"/>
<circle cx="311.7" cy="288.2" r="2.9"/>
<circle cx="470.7" cy="281.0" r="2.9"/>
<circle cx="526.3" cy="283.1" r="2.9"/>
<circle cx="578.0" cy="286.2" r="2.9"/>
<circle cx="318.4" cy="281.2" r="2.9"/>
<circle cx="353.6" cy="291.3" r="2.9"/>
<circle cx="313.2" cy="290.5" r="2.9"/>
<circle cx="620.5" cy="290.7" r="2.9"/>
<circle cx="646.7" cy="274.6" r="2.9"/>
<circle cx="657.0" cy="280.1" r="2.9"/>
<circle cx="663.3" cy="280.4" r="2.9"/>
<circle cx="650.7" cy="282.0" r="2.9"/>
<circle cx="648.8" cy="280.3" r="2.9"/>
<circle cx="657.8" cy="280.6" r="2.9"/>
<circle cx="648.4" cy="279.9" r="2.9"/>
<circle cx="652.5" cy="277.9" r="2.9"/>
<circle cx="648.0" cy="277.9" r="2.9"/>
<circle cx="652.8" cy="280.4" r="2.9"/>
<circle cx="654.5" cy="276.8" r="2.9"/>
<circle cx="648.9" cy="281.0" r="2.9"/>
<circle cx="651.7" cy="274.0" r="2.9"/>
<circle cx="656.8" cy="281.9" r="2.9"/>
<circle cx="652.8" cy="274.0" r="2.9"/>
<circle cx="647.6" cy="279.9" r="2.9"/>
<circle cx="652.7" cy="281.4" r="2.9"/>
<circle cx="659.1" cy="278.5" r="2.9"/>
<circle cx="663.2" cy="279.1" r="2.9"/>
<circle cx="650.9" cy="281.6" r="2.9"/>
<circle cx="660.0" cy="281.1" r="2.9"/>
<circle cx="663.5" cy="276.1" r="2.9"/>
<circle cx="648.7" cy="276.0" r="2.9"/>
<circle cx="660.3" cy="277.3" r="2.9"/>
<circle cx="647.3" cy="275.6" r="2.9"/>
<circle cx="302.7" cy="259.3" r="2.9"/>
<circle cx="306.0" cy="259.3" r="2.9"/>
<circle cx="309.2" cy="267.0" r="2.9"/>
<circle cx="315.3" cy="270.3" r="2.9"/>
<circle cx="319.6" cy="274.6" r="2.9"/>
<circle cx="301.6" cy="271.4" r="2.9"/>
<circle cx="304.9" cy="278.5" r="2.9"/>
<circle cx="300.0" cy="280.7" r="2.9"/>
<circle cx="331.1" cy="263.1" r="2.9"/>
<circle cx="334.4" cy="262.6" r="2.9"/>
<circle cx="331.7" cy="270.8" r="2.9"/>
<circle cx="347.0" cy="258.8" r="2.9"/>
<circle cx="347.0" cy="262.0" r="2.9"/>
<circle cx="356.3" cy="265.3" r="2.9"/>
<circle cx="342.1" cy="272.5" r="2.9"/>
<circle cx="352.0" cy="271.9" r="2.9"/>
<circle cx="361.8" cy="272.5" r="2.9"/>
<circle cx="332.8" cy="280.7" r="2.9"/>
<circle cx="368.4" cy="268.0" r="2.9"/>
<circle cx="396.8" cy="259.3" r="2.9"/>
<circle cx="372.2" cy="268.0" r="2.9"/>
<circle cx="389.7" cy="268.4" r="2.9"/>
<circle cx="396.3" cy="271.0" r="2.9"/>
<circle cx="411.1" cy="267.0" r="2.9"/>
<circle cx="383.1" cy="273.0" r="2.9"/>
<circle cx="429.1" cy="265.3" r="2.9"/>
<circle cx="435.7" cy="265.3" r="2.9"/>
<circle cx="441.2" cy="265.3" r="2.9"/>
<circle cx="423.7" cy="270.8" r="2.9"/>
<circle cx="428.0" cy="275.2" r="2.9"/>
<circle cx="440.6" cy="269.7" r="2.9"/>
<circle cx="418.2" cy="275.2" r="2.9"/>
<circle cx="406.7" cy="275.7" r="2.9"/>
<circle cx="458.7" cy="262.6" r="2.9"/>
<circle cx="485.0" cy="259.3" r="2.9"/>
<circle cx="494.8" cy="263.7" r="2.9"/>
<circle cx="494.8" cy="267.5" r="2.9"/>
<circle cx="453.8" cy="270.3" r="2.9"/>
<circle cx="446.6" cy="272.5" r="2.9"/>
<circle cx="460.9" cy="271.4" r="2.9"/>
<circle cx="466.4" cy="267.5" r="2.9"/>
<circle cx="468.5" cy="270.8" r="2.9"/>
<circle cx="476.8" cy="269.2" r="2.9"/>
<circle cx="477.3" cy="273.5" r="2.9"/>
<circle cx="485.0" cy="270.8" r="2.9"/>
<circle cx="502.0" cy="273.5" r="2.9"/>
<circle cx="515.6" cy="274.0" r="2.9"/>
<circle cx="457.0" cy="278.5" r="2.9"/>
<circle cx="570.4" cy="265.3" r="2.9"/>
<circle cx="531.0" cy="268.0" r="2.9"/>
<circle cx="534.2" cy="267.5" r="2.9"/>
<circle cx="541.4" cy="272.5" r="2.9"/>
<circle cx="549.0" cy="271.9" r="2.9"/>
<circle cx="555.0" cy="273.0" r="2.9"/>
<circle cx="562.2" cy="274.6" r="2.9"/>
<circle cx="523.3" cy="271.9" r="2.9"/>
<circle cx="582.4" cy="268.6" r="2.9"/>
<circle cx="585.7" cy="267.5" r="2.9"/>
<circle cx="585.7" cy="273.5" r="2.9"/>
<circle cx="574.2" cy="276.3" r="2.9"/>
<circle cx="534.2" cy="275.7" r="2.9"/>
<circle cx="627.9" cy="261.0" r="2.9"/>
<circle cx="636.1" cy="258.8" r="2.9"/>
<circle cx="656.9" cy="265.9" r="2.9"/>
<circle cx="661.3" cy="271.4" r="2.9"/>
<circle cx="654.1" cy="270.3" r="2.9"/>
<circle cx="610.3" cy="273.0" r="2.9"/>
<circle cx="618.0" cy="272.5" r="2.9"/>
<circle cx="618.0" cy="277.4" r="2.9"/>
<circle cx="626.8" cy="274.1" r="2.9"/>
<circle cx="631.7" cy="274.6" r="2.9"/>
<circle cx="644.3" cy="275.7" r="2.9"/>
<circle cx="652.0" cy="273.0" r="2.9"/>
<circle cx="601.0" cy="278.0" r="2.9"/>
<circle cx="665.1" cy="279.6" r="2.9"/>
</g>
<circle cx="445.4" cy="88.7" r="4.2" fill="#2438f0" stroke="#333" stroke-width="0.9"/>
<text transform="translate(453.4,93.2) scale(1,1.012)" font-size="13.2" text-anchor="start" font-weight="normal" fill="#2b2b2b" >Stress granules</text>
<circle cx="445.4" cy="104.5" r="4.2" fill="#f02a2a" stroke="#333" stroke-width="0.9"/>
<text transform="translate(453.4,109.05) scale(1,1.012)" font-size="13.2" text-anchor="start" font-weight="normal" fill="#2b2b2b" >Post-translational modification</text>
<circle cx="445.4" cy="120.4" r="4.2" fill="#2d9556" stroke="#333" stroke-width="0.9"/>
<text transform="translate(453.4,124.9) scale(1,1.012)" font-size="13.2" text-anchor="start" font-weight="normal" fill="#2b2b2b" >Golgi, trafficking, and cytoskeleton</text>
<circle cx="445.4" cy="136.2" r="4.2" fill="#f7982c" stroke="#333" stroke-width="0.9"/>
<text transform="translate(453.4,140.75) scale(1,1.012)" font-size="13.2" text-anchor="start" font-weight="normal" fill="#2b2b2b" >Transcription factors</text>
<circle cx="445.4" cy="152.1" r="4.2" fill="#8c2a98" stroke="#333" stroke-width="0.9"/>
<text transform="translate(453.4,156.6) scale(1,1.012)" font-size="13.2" text-anchor="start" font-weight="normal" fill="#2b2b2b" >Other or uncharacterized</text>
<circle cx="300.6" cy="206" r="3.6" fill="#2438f0" stroke="#222" stroke-width="0.9"/>
<text transform="translate(289.8,202.20000000000002) scale(1,1.012)" font-size="8.6" text-anchor="start" font-weight="normal" fill="#1a1a1a" stroke="#fff" stroke-width="1.6" paint-order="stroke" stroke-linejoin="round">G3BP1</text>
<text transform="translate(289.8,202.20000000000002) scale(1,1.012)" font-size="8.6" text-anchor="start" font-weight="normal" fill="#1a1a1a" stroke="#1a1a1a" stroke-width="0.12">G3BP1</text>
<circle cx="324.6" cy="253.6" r="3.6" fill="#2438f0" stroke="#222" stroke-width="0.9"/>
<text transform="translate(313.8,249.8) scale(1,1.012)" font-size="8.6" text-anchor="start" font-weight="normal" fill="#1a1a1a" stroke="#fff" stroke-width="1.6" paint-order="stroke" stroke-linejoin="round">G3BP2</text>
<text transform="translate(313.8,249.8) scale(1,1.012)" font-size="8.6" text-anchor="start" font-weight="normal" fill="#1a1a1a" stroke="#1a1a1a" stroke-width="0.12">G3BP2</text>
<circle cx="357.4" cy="253.6" r="3.6" fill="#f02a2a" stroke="#222" stroke-width="0.9"/>
<text transform="translate(346.40000000000003,249.8) scale(1,1.012)" font-size="8.6" text-anchor="start" font-weight="normal" fill="#1a1a1a" stroke="#fff" stroke-width="1.6" paint-order="stroke" stroke-linejoin="round">POFUT2</text>
<text transform="translate(346.40000000000003,249.8) scale(1,1.012)" font-size="8.6" text-anchor="start" font-weight="normal" fill="#1a1a1a" stroke="#1a1a1a" stroke-width="0.12">POFUT2</text>
<circle cx="377" cy="223" r="3.6" fill="#f02a2a" stroke="#222" stroke-width="0.9"/>
<text transform="translate(365.8,217.8) scale(1,1.012)" font-size="8.6" text-anchor="start" font-weight="normal" fill="#1a1a1a" stroke="#fff" stroke-width="1.6" paint-order="stroke" stroke-linejoin="round">PCBD1</text>
<text transform="translate(365.8,217.8) scale(1,1.012)" font-size="8.6" text-anchor="start" font-weight="normal" fill="#1a1a1a" stroke="#1a1a1a" stroke-width="0.12">PCBD1</text>
<circle cx="396.4" cy="252" r="3.6" fill="#f02a2a" stroke="#222" stroke-width="0.9"/>
<text transform="translate(384.8,247.4) scale(1,1.012)" font-size="8.6" text-anchor="start" font-weight="normal" fill="#1a1a1a" stroke="#fff" stroke-width="1.6" paint-order="stroke" stroke-linejoin="round">BAG6</text>
<text transform="translate(384.8,247.4) scale(1,1.012)" font-size="8.6" text-anchor="start" font-weight="normal" fill="#1a1a1a" stroke="#1a1a1a" stroke-width="0.12">BAG6</text>
<circle cx="424.4" cy="252.6" r="3.6" fill="#2d9556" stroke="#222" stroke-width="0.9"/>
<text transform="translate(413.40000000000003,248.8) scale(1,1.012)" font-size="8.6" text-anchor="start" font-weight="normal" fill="#1a1a1a" stroke="#fff" stroke-width="1.6" paint-order="stroke" stroke-linejoin="round">GOLGA7</text>
<text transform="translate(413.40000000000003,248.8) scale(1,1.012)" font-size="8.6" text-anchor="start" font-weight="normal" fill="#1a1a1a" stroke="#1a1a1a" stroke-width="0.12">GOLGA7</text>
<circle cx="462.4" cy="239.6" r="3.6" fill="#2438f0" stroke="#222" stroke-width="0.9"/>
<text transform="translate(451.40000000000003,235.8) scale(1,1.012)" font-size="8.6" text-anchor="start" font-weight="normal" fill="#1a1a1a" stroke="#fff" stroke-width="1.6" paint-order="stroke" stroke-linejoin="round">CSDE1</text>
<text transform="translate(451.40000000000003,235.8) scale(1,1.012)" font-size="8.6" text-anchor="start" font-weight="normal" fill="#1a1a1a" stroke="#1a1a1a" stroke-width="0.12">CSDE1</text>
<circle cx="462.4" cy="255.6" r="3.6" fill="#8c2a98" stroke="#222" stroke-width="0.9"/>
<text transform="translate(451.40000000000003,251.8) scale(1,1.012)" font-size="8.6" text-anchor="start" font-weight="normal" fill="#1a1a1a" stroke="#fff" stroke-width="1.6" paint-order="stroke" stroke-linejoin="round">PNMAL1</text>
<text transform="translate(451.40000000000003,251.8) scale(1,1.012)" font-size="8.6" text-anchor="start" font-weight="normal" fill="#1a1a1a" stroke="#1a1a1a" stroke-width="0.12">PNMAL1</text>
<circle cx="491.2" cy="244.6" r="3.6" fill="#2d9556" stroke="#222" stroke-width="0.9"/>
<text transform="translate(479.8,240.8) scale(1,1.012)" font-size="8.6" text-anchor="start" font-weight="normal" fill="#1a1a1a" stroke="#fff" stroke-width="1.6" paint-order="stroke" stroke-linejoin="round">EPS15L1</text>
<text transform="translate(479.8,240.8) scale(1,1.012)" font-size="8.6" text-anchor="start" font-weight="normal" fill="#1a1a1a" stroke="#1a1a1a" stroke-width="0.12">EPS15L1</text>
<circle cx="508" cy="255" r="3.6" fill="#8c2a98" stroke="#222" stroke-width="0.9"/>
<text transform="translate(495.8,250.8) scale(1,1.012)" font-size="8.6" text-anchor="start" font-weight="normal" fill="#1a1a1a" stroke="#fff" stroke-width="1.6" paint-order="stroke" stroke-linejoin="round">CIPC</text>
<text transform="translate(495.8,250.8) scale(1,1.012)" font-size="8.6" text-anchor="start" font-weight="normal" fill="#1a1a1a" stroke="#1a1a1a" stroke-width="0.12">CIPC</text>
<circle cx="529.2" cy="257" r="3.6" fill="#2d9556" stroke="#222" stroke-width="0.9"/>
<text transform="translate(518.4,253.4) scale(1,1.012)" font-size="8.6" text-anchor="start" font-weight="normal" fill="#1a1a1a" stroke="#fff" stroke-width="1.6" paint-order="stroke" stroke-linejoin="round">SEPTIN6</text>
<text transform="translate(518.4,253.4) scale(1,1.012)" font-size="8.6" text-anchor="start" font-weight="normal" fill="#1a1a1a" stroke="#1a1a1a" stroke-width="0.12">SEPTIN6</text>
<circle cx="529.2" cy="197.4" r="3.6" fill="#f7982c" stroke="#222" stroke-width="0.9"/>
<text transform="translate(517.8,192.8) scale(1,1.012)" font-size="8.6" text-anchor="start" font-weight="normal" fill="#1a1a1a" stroke="#fff" stroke-width="1.6" paint-order="stroke" stroke-linejoin="round">HNF1A</text>
<text transform="translate(517.8,192.8) scale(1,1.012)" font-size="8.6" text-anchor="start" font-weight="normal" fill="#1a1a1a" stroke="#1a1a1a" stroke-width="0.12">HNF1A</text>
<circle cx="549" cy="230.6" r="3.6" fill="#f7982c" stroke="#222" stroke-width="0.9"/>
<text transform="translate(536.8,226.8) scale(1,1.012)" font-size="8.6" text-anchor="start" font-weight="normal" fill="#1a1a1a" stroke="#fff" stroke-width="1.6" paint-order="stroke" stroke-linejoin="round">FOXA2</text>
<text transform="translate(536.8,226.8) scale(1,1.012)" font-size="8.6" text-anchor="start" font-weight="normal" fill="#1a1a1a" stroke="#1a1a1a" stroke-width="0.12">FOXA2</text>
<circle cx="564" cy="245.6" r="3.6" fill="#f7982c" stroke="#222" stroke-width="0.9"/>
<text transform="translate(552.1999999999999,240.8) scale(1,1.012)" font-size="8.6" text-anchor="start" font-weight="normal" fill="#1a1a1a" stroke="#fff" stroke-width="1.6" paint-order="stroke" stroke-linejoin="round">FOXA1</text>
<text transform="translate(552.1999999999999,240.8) scale(1,1.012)" font-size="8.6" text-anchor="start" font-weight="normal" fill="#1a1a1a" stroke="#1a1a1a" stroke-width="0.12">FOXA1</text>
<circle cx="587" cy="233.6" r="3.6" fill="#f7982c" stroke="#222" stroke-width="0.9"/>
<text transform="translate(575.8,228.8) scale(1,1.012)" font-size="8.6" text-anchor="start" font-weight="normal" fill="#1a1a1a" stroke="#fff" stroke-width="1.6" paint-order="stroke" stroke-linejoin="round">CEBPA</text>
<text transform="translate(575.8,228.8) scale(1,1.012)" font-size="8.6" text-anchor="start" font-weight="normal" fill="#1a1a1a" stroke="#1a1a1a" stroke-width="0.12">CEBPA</text>
<circle cx="587" cy="256.4" r="3.6" fill="#8c2a98" stroke="#222" stroke-width="0.9"/>
<text transform="translate(575.8,251.8) scale(1,1.012)" font-size="8.6" text-anchor="start" font-weight="normal" fill="#1a1a1a" stroke="#fff" stroke-width="1.6" paint-order="stroke" stroke-linejoin="round">GDF2</text>
<text transform="translate(575.8,251.8) scale(1,1.012)" font-size="8.6" text-anchor="start" font-weight="normal" fill="#1a1a1a" stroke="#1a1a1a" stroke-width="0.12">GDF2</text>
<circle cx="605.6" cy="247" r="3.6" fill="#f7982c" stroke="#222" stroke-width="0.9"/>
<text transform="translate(594.8,243.20000000000002) scale(1,1.012)" font-size="8.6" text-anchor="start" font-weight="normal" fill="#1a1a1a" stroke="#fff" stroke-width="1.6" paint-order="stroke" stroke-linejoin="round">RND2</text>
<text transform="translate(594.8,243.20000000000002) scale(1,1.012)" font-size="8.6" text-anchor="start" font-weight="normal" fill="#1a1a1a" stroke="#1a1a1a" stroke-width="0.12">RND2</text>
<circle cx="644.4" cy="248.4" r="3.6" fill="#8c2a98" stroke="#222" stroke-width="0.9"/>
<text transform="translate(632.8,243.8) scale(1,1.012)" font-size="8.6" text-anchor="start" font-weight="normal" fill="#1a1a1a" stroke="#fff" stroke-width="1.6" paint-order="stroke" stroke-linejoin="round">CLEC4G</text>
<text transform="translate(632.8,243.8) scale(1,1.012)" font-size="8.6" text-anchor="start" font-weight="normal" fill="#1a1a1a" stroke="#1a1a1a" stroke-width="0.12">CLEC4G</text>
<text transform="translate(-0.5,361.5) scale(1,1.012)" font-size="15.5" text-anchor="start" font-weight="bold" fill="#1a1a1a" >d</text>
<line x1="52.1" y1="360.4" x2="52.1" y2="489.3" stroke="#262626" stroke-width="1.6" />
<line x1="47.2" y1="488.6" x2="52.1" y2="488.6" stroke="#262626" stroke-width="1.4" />
<text transform="translate(45.3,493.20000000000005) scale(1,1.012)" font-size="13.2" text-anchor="end" font-weight="normal" fill="#2b2b2b" >0</text>
<line x1="47.2" y1="463.07500000000005" x2="52.1" y2="463.07500000000005" stroke="#262626" stroke-width="1.4" />
<text transform="translate(45.3,467.67500000000007) scale(1,1.012)" font-size="13.2" text-anchor="end" font-weight="normal" fill="#2b2b2b" >25</text>
<line x1="47.2" y1="437.55" x2="52.1" y2="437.55" stroke="#262626" stroke-width="1.4" />
<text transform="translate(45.3,442.15000000000003) scale(1,1.012)" font-size="13.2" text-anchor="end" font-weight="normal" fill="#2b2b2b" >50</text>
<line x1="47.2" y1="412.02500000000003" x2="52.1" y2="412.02500000000003" stroke="#262626" stroke-width="1.4" />
<text transform="translate(45.3,416.62500000000006) scale(1,1.012)" font-size="13.2" text-anchor="end" font-weight="normal" fill="#2b2b2b" >75</text>
<line x1="47.2" y1="386.5" x2="52.1" y2="386.5" stroke="#262626" stroke-width="1.4" />
<text transform="translate(45.3,391.1) scale(1,1.012)" font-size="13.2" text-anchor="end" font-weight="normal" fill="#2b2b2b" >100</text>
<line x1="47.2" y1="360.975" x2="52.1" y2="360.975" stroke="#262626" stroke-width="1.4" />
<text transform="translate(45.3,365.57500000000005) scale(1,1.012)" font-size="13.2" text-anchor="end" font-weight="normal" fill="#2b2b2b" >125</text>
<line x1="52.5" y1="386.6" x2="355" y2="386.6" stroke="#d8d8d8" stroke-width="1" />
<text transform="translate(101.3,364.5) scale(1,1.012)" font-size="13.05" text-anchor="start" font-weight="normal" fill="#2b2b2b" >Huh7.5.1 + CHIKV replicon cell line</text>
<text transform="translate(15.3,424.3) rotate(-90) scale(1,1.012)" font-size="13.2" text-anchor="middle" fill="#2b2b2b">eGFP (% of WT)</text>
<rect x="57.8" y="387.2" width="9.8" height="101.4" fill="#e5e6e8" stroke="#2e2e2e" stroke-width="1.1"/>
<line x1="62.699999999999996" y1="385.5" x2="62.699999999999996" y2="388.5" stroke="#222" stroke-width="1.3" />
<line x1="59.099999999999994" y1="385.5" x2="66.3" y2="385.5" stroke="#222" stroke-width="1.3" />
<line x1="59.099999999999994" y1="388.5" x2="66.3" y2="388.5" stroke="#222" stroke-width="1.3" />
<circle cx="60.7" cy="386.5" r="1.95" fill="#222"/>
<circle cx="62.7" cy="386" r="1.95" fill="#222"/>
<circle cx="64.7" cy="386.2" r="1.95" fill="#222"/>
<text transform="translate(67.5,492.8) rotate(-90) scale(1,1.012)" font-size="13.2" text-anchor="end" fill="#2b2b2b">WT</text>
<rect x="72.9" y="397.4" width="9.8" height="91.2" fill="#e5e6e8" stroke="#2e2e2e" stroke-width="1.1"/>
<line x1="77.78" y1="391.5" x2="77.78" y2="403.5" stroke="#222" stroke-width="1.3" />
<line x1="74.18" y1="391.5" x2="81.38" y2="391.5" stroke="#222" stroke-width="1.3" />
<line x1="74.18" y1="403.5" x2="81.38" y2="403.5" stroke="#222" stroke-width="1.3" />
<circle cx="77.8" cy="391.5" r="1.95" fill="#222"/>
<circle cx="77.8" cy="396.5" r="1.95" fill="#222"/>
<circle cx="77.8" cy="403" r="1.95" fill="#222"/>
<text transform="translate(82.6,492.8) rotate(-90) scale(1,1.012)" font-size="13.2" text-anchor="end" fill="#2b2b2b">NT</text>
<rect x="88.0" y="381" width="9.8" height="107.6" fill="#e5e6e8" stroke="#2e2e2e" stroke-width="1.1"/>
<line x1="92.86" y1="377.5" x2="92.86" y2="382.5" stroke="#222" stroke-width="1.3" />
<line x1="89.26" y1="377.5" x2="96.46" y2="377.5" stroke="#222" stroke-width="1.3" />
<line x1="89.26" y1="382.5" x2="96.46" y2="382.5" stroke="#222" stroke-width="1.3" />
<circle cx="90.9" cy="377.3" r="1.95" fill="#222"/>
<circle cx="94.9" cy="379.5" r="1.95" fill="#222"/>
<circle cx="92.9" cy="380" r="1.95" fill="#222"/>
<text transform="translate(97.7,492.8) rotate(-90) scale(1,1.012)" font-size="13.2" text-anchor="end" fill="#2b2b2b">CEBPA</text>
<rect x="103.0" y="391.9" width="9.8" height="96.7" fill="#e5e6e8" stroke="#2e2e2e" stroke-width="1.1"/>
<line x1="107.94" y1="376.5" x2="107.94" y2="403.5" stroke="#222" stroke-width="1.3" />
<line x1="104.34" y1="376.5" x2="111.53999999999999" y2="376.5" stroke="#222" stroke-width="1.3" />
<line x1="104.34" y1="403.5" x2="111.53999999999999" y2="403.5" stroke="#222" stroke-width="1.3" />
<circle cx="107.9" cy="376.6" r="1.95" fill="#222"/>
<circle cx="107.9" cy="394.5" r="1.95" fill="#222"/>
<circle cx="107.9" cy="401.5" r="1.95" fill="#222"/>
<text transform="translate(112.7,492.8) rotate(-90) scale(1,1.012)" font-size="13.2" text-anchor="end" fill="#2b2b2b">RND2</text>
<rect x="118.1" y="392.3" width="9.8" height="96.3" fill="#e5e6e8" stroke="#2e2e2e" stroke-width="1.1"/>
<line x1="123.02000000000001" y1="382.5" x2="123.02000000000001" y2="398.5" stroke="#222" stroke-width="1.3" />
<line x1="119.42000000000002" y1="382.5" x2="126.62" y2="382.5" stroke="#222" stroke-width="1.3" />
<line x1="119.42000000000002" y1="398.5" x2="126.62" y2="398.5" stroke="#222" stroke-width="1.3" />
<circle cx="123.0" cy="382.4" r="1.95" fill="#222"/>
<circle cx="121.0" cy="396.5" r="1.95" fill="#222"/>
<circle cx="125.0" cy="394" r="1.95" fill="#222"/>
<text transform="translate(127.8,492.8) rotate(-90) scale(1,1.012)" font-size="13.2" text-anchor="end" fill="#2b2b2b">CIPC</text>
<rect x="133.2" y="397" width="9.8" height="91.6" fill="#e5e6e8" stroke="#2e2e2e" stroke-width="1.1"/>
<line x1="138.1" y1="382.5" x2="138.1" y2="408.5" stroke="#222" stroke-width="1.3" />
<line x1="134.5" y1="382.5" x2="141.7" y2="382.5" stroke="#222" stroke-width="1.3" />
<line x1="134.5" y1="408.5" x2="141.7" y2="408.5" stroke="#222" stroke-width="1.3" />
<circle cx="138.1" cy="382.4" r="1.95" fill="#222"/>
<circle cx="138.1" cy="398.5" r="1.95" fill="#222"/>
<circle cx="138.1" cy="408" r="1.95" fill="#222"/>
<text transform="translate(142.9,492.8) rotate(-90) scale(1,1.012)" font-size="13.2" text-anchor="end" fill="#2b2b2b">FOXA2</text>
<rect x="148.3" y="397" width="9.8" height="91.6" fill="#e5e6e8" stroke="#2e2e2e" stroke-width="1.1"/>
<line x1="153.18" y1="386.5" x2="153.18" y2="405.5" stroke="#222" stroke-width="1.3" />
<line x1="149.58" y1="386.5" x2="156.78" y2="386.5" stroke="#222" stroke-width="1.3" />
<line x1="149.58" y1="405.5" x2="156.78" y2="405.5" stroke="#222" stroke-width="1.3" />
<circle cx="151.2" cy="390" r="1.95" fill="#222"/>
<circle cx="155.2" cy="390" r="1.95" fill="#222"/>
<circle cx="153.2" cy="407.2" r="1.95" fill="#222"/>
<text transform="translate(158.0,492.8) rotate(-90) scale(1,1.012)" font-size="13.2" text-anchor="end" fill="#2b2b2b">PNMAL1</text>
<rect x="163.4" y="399.6" width="9.8" height="89.0" fill="#e5e6e8" stroke="#2e2e2e" stroke-width="1.1"/>
<line x1="168.26000000000002" y1="388.5" x2="168.26000000000002" y2="408.5" stroke="#222" stroke-width="1.3" />
<line x1="164.66000000000003" y1="388.5" x2="171.86" y2="388.5" stroke="#222" stroke-width="1.3" />
<line x1="164.66000000000003" y1="408.5" x2="171.86" y2="408.5" stroke="#222" stroke-width="1.3" />
<circle cx="168.3" cy="391" r="1.95" fill="#222"/>
<circle cx="168.3" cy="395" r="1.95" fill="#222"/>
<circle cx="168.3" cy="409" r="1.95" fill="#222"/>
<text transform="translate(173.1,492.8) rotate(-90) scale(1,1.012)" font-size="13.2" text-anchor="end" fill="#2b2b2b">BAG6</text>
<rect x="178.4" y="400.4" width="9.8" height="88.2" fill="#e5e6e8" stroke="#2e2e2e" stroke-width="1.1"/>
<line x1="183.34" y1="382.5" x2="183.34" y2="412.5" stroke="#222" stroke-width="1.3" />
<line x1="179.74" y1="382.5" x2="186.94" y2="382.5" stroke="#222" stroke-width="1.3" />
<line x1="179.74" y1="412.5" x2="186.94" y2="412.5" stroke="#222" stroke-width="1.3" />
<circle cx="183.3" cy="382.8" r="1.95" fill="#222"/>
<circle cx="181.3" cy="408" r="1.95" fill="#222"/>
<circle cx="185.3" cy="406.5" r="1.95" fill="#222"/>
<text transform="translate(188.1,492.8) rotate(-90) scale(1,1.012)" font-size="13.2" text-anchor="end" fill="#2b2b2b">GDF2</text>
<rect x="193.5" y="400.4" width="9.8" height="88.2" fill="#e5e6e8" stroke="#2e2e2e" stroke-width="1.1"/>
<line x1="198.42" y1="392.5" x2="198.42" y2="408.5" stroke="#222" stroke-width="1.3" />
<line x1="194.82" y1="392.5" x2="202.01999999999998" y2="392.5" stroke="#222" stroke-width="1.3" />
<line x1="194.82" y1="408.5" x2="202.01999999999998" y2="408.5" stroke="#222" stroke-width="1.3" />
<circle cx="196.4" cy="393" r="1.95" fill="#222"/>
<circle cx="200.4" cy="396" r="1.95" fill="#222"/>
<circle cx="198.4" cy="408" r="1.95" fill="#222"/>
<text transform="translate(203.2,492.8) rotate(-90) scale(1,1.012)" font-size="13.2" text-anchor="end" fill="#2b2b2b">FOXA1</text>
<rect x="208.6" y="401" width="9.8" height="87.6" fill="#e5e6e8" stroke="#2e2e2e" stroke-width="1.1"/>
<line x1="213.50000000000003" y1="388.5" x2="213.50000000000003" y2="410.5" stroke="#222" stroke-width="1.3" />
<line x1="209.90000000000003" y1="388.5" x2="217.10000000000002" y2="388.5" stroke="#222" stroke-width="1.3" />
<line x1="209.90000000000003" y1="410.5" x2="217.10000000000002" y2="410.5" stroke="#222" stroke-width="1.3" />
<circle cx="213.5" cy="388.7" r="1.95" fill="#222"/>
<circle cx="213.5" cy="404" r="1.95" fill="#222"/>
<circle cx="213.5" cy="408" r="1.95" fill="#222"/>
<text transform="translate(218.3,492.8) rotate(-90) scale(1,1.012)" font-size="13.2" text-anchor="end" fill="#2b2b2b">SEPTIN6</text>
<rect x="223.7" y="401.8" width="9.8" height="86.8" fill="#e5e6e8" stroke="#2e2e2e" stroke-width="1.1"/>
<line x1="228.58" y1="382.5" x2="228.58" y2="417.5" stroke="#222" stroke-width="1.3" />
<line x1="224.98000000000002" y1="382.5" x2="232.18" y2="382.5" stroke="#222" stroke-width="1.3" />
<line x1="224.98000000000002" y1="417.5" x2="232.18" y2="417.5" stroke="#222" stroke-width="1.3" />
<circle cx="228.6" cy="382.8" r="1.95" fill="#222"/>
<circle cx="228.6" cy="406" r="1.95" fill="#222"/>
<circle cx="228.6" cy="414" r="1.95" fill="#222"/>
<text transform="translate(233.4,492.8) rotate(-90) scale(1,1.012)" font-size="13.2" text-anchor="end" fill="#2b2b2b">POFUT2</text>
<rect x="238.8" y="405.4" width="9.8" height="83.2" fill="#e5e6e8" stroke="#2e2e2e" stroke-width="1.1"/>
<line x1="243.66" y1="392.5" x2="243.66" y2="414.5" stroke="#222" stroke-width="1.3" />
<line x1="240.06" y1="392.5" x2="247.26" y2="392.5" stroke="#222" stroke-width="1.3" />
<line x1="240.06" y1="414.5" x2="247.26" y2="414.5" stroke="#222" stroke-width="1.3" />
<circle cx="243.7" cy="393" r="1.95" fill="#222"/>
<circle cx="243.7" cy="407" r="1.95" fill="#222"/>
<circle cx="243.7" cy="413" r="1.95" fill="#222"/>
<text transform="translate(248.5,492.8) rotate(-90) scale(1,1.012)" font-size="13.2" text-anchor="end" fill="#2b2b2b">EPS15L</text>
<rect x="253.8" y="413" width="9.8" height="75.6" fill="#e5e6e8" stroke="#2e2e2e" stroke-width="1.1"/>
<line x1="258.73999999999995" y1="403.5" x2="258.73999999999995" y2="419.5" stroke="#222" stroke-width="1.3" />
<line x1="255.13999999999996" y1="403.5" x2="262.34" y2="403.5" stroke="#222" stroke-width="1.3" />
<line x1="255.13999999999996" y1="419.5" x2="262.34" y2="419.5" stroke="#222" stroke-width="1.3" />
<circle cx="258.7" cy="403.7" r="1.95" fill="#222"/>
<circle cx="256.7" cy="416" r="1.95" fill="#222"/>
<circle cx="260.7" cy="416" r="1.95" fill="#222"/>
<text transform="translate(263.5,492.8) rotate(-90) scale(1,1.012)" font-size="13.2" text-anchor="end" fill="#2b2b2b">CSDE1</text>
<text transform="translate(259.34,400.5) scale(1,1.012)" font-size="10" text-anchor="middle" font-weight="normal" fill="#2b2b2b" letter-spacing="1.2">*</text>
<rect x="268.9" y="413.5" width="9.8" height="75.1" fill="#e5e6e8" stroke="#2e2e2e" stroke-width="1.1"/>
<line x1="273.82" y1="404.5" x2="273.82" y2="420.5" stroke="#222" stroke-width="1.3" />
<line x1="270.21999999999997" y1="404.5" x2="277.42" y2="404.5" stroke="#222" stroke-width="1.3" />
<line x1="270.21999999999997" y1="420.5" x2="277.42" y2="420.5" stroke="#222" stroke-width="1.3" />
<circle cx="273.8" cy="405" r="1.95" fill="#222"/>
<circle cx="273.8" cy="412" r="1.95" fill="#222"/>
<circle cx="273.8" cy="420" r="1.95" fill="#222"/>
<text transform="translate(278.6,492.8) rotate(-90) scale(1,1.012)" font-size="13.2" text-anchor="end" fill="#2b2b2b">CLEC4G</text>
<text transform="translate(274.42,401.9) scale(1,1.012)" font-size="10" text-anchor="middle" font-weight="normal" fill="#2b2b2b" letter-spacing="1.2">*</text>
<rect x="284.0" y="414.5" width="9.8" height="74.1" fill="#e5e6e8" stroke="#2e2e2e" stroke-width="1.1"/>
<line x1="288.9" y1="403.5" x2="288.9" y2="422.5" stroke="#222" stroke-width="1.3" />
<line x1="285.29999999999995" y1="403.5" x2="292.5" y2="403.5" stroke="#222" stroke-width="1.3" />
<line x1="285.29999999999995" y1="422.5" x2="292.5" y2="422.5" stroke="#222" stroke-width="1.3" />
<circle cx="288.9" cy="403.7" r="1.95" fill="#222"/>
<circle cx="288.9" cy="414" r="1.95" fill="#222"/>
<circle cx="288.9" cy="422" r="1.95" fill="#222"/>
<text transform="translate(293.7,492.8) rotate(-90) scale(1,1.012)" font-size="13.2" text-anchor="end" fill="#2b2b2b">HNF1A</text>
<text transform="translate(289.5,400.7) scale(1,1.012)" font-size="10" text-anchor="middle" font-weight="normal" fill="#2b2b2b" letter-spacing="1.2">*</text>
<rect x="299.1" y="421.2" width="9.8" height="67.4" fill="#e5e6e8" stroke="#2e2e2e" stroke-width="1.1"/>
<line x1="303.97999999999996" y1="419.5" x2="303.97999999999996" y2="422.5" stroke="#222" stroke-width="1.3" />
<line x1="300.37999999999994" y1="419.5" x2="307.58" y2="419.5" stroke="#222" stroke-width="1.3" />
<line x1="300.37999999999994" y1="422.5" x2="307.58" y2="422.5" stroke="#222" stroke-width="1.3" />
<circle cx="302.0" cy="421" r="1.95" fill="#222"/>
<circle cx="304.0" cy="420" r="1.95" fill="#222"/>
<circle cx="306.0" cy="420" r="1.95" fill="#222"/>
<text transform="translate(308.8,492.8) rotate(-90) scale(1,1.012)" font-size="13.2" text-anchor="end" fill="#2b2b2b">PCBD1</text>
<text transform="translate(304.58,415.5) scale(1,1.012)" font-size="10" text-anchor="middle" font-weight="normal" fill="#2b2b2b" letter-spacing="1.2">**</text>
<rect x="314.2" y="423.2" width="9.8" height="65.4" fill="#e5e6e8" stroke="#2e2e2e" stroke-width="1.1"/>
<line x1="319.06" y1="411.5" x2="319.06" y2="433.5" stroke="#222" stroke-width="1.3" />
<line x1="315.46" y1="411.5" x2="322.66" y2="411.5" stroke="#222" stroke-width="1.3" />
<line x1="315.46" y1="433.5" x2="322.66" y2="433.5" stroke="#222" stroke-width="1.3" />
<circle cx="319.1" cy="411.7" r="1.95" fill="#222"/>
<circle cx="319.1" cy="423" r="1.95" fill="#222"/>
<circle cx="319.1" cy="433" r="1.95" fill="#222"/>
<text transform="translate(323.9,492.8) rotate(-90) scale(1,1.012)" font-size="13.2" text-anchor="end" fill="#2b2b2b">GOLGA7</text>
<text transform="translate(319.66,408.5) scale(1,1.012)" font-size="10" text-anchor="middle" font-weight="normal" fill="#2b2b2b" letter-spacing="1.2">***</text>
<rect x="329.2" y="453.4" width="9.8" height="35.2" fill="#e5e6e8" stroke="#2e2e2e" stroke-width="1.1"/>
<line x1="334.14" y1="444.5" x2="334.14" y2="459.5" stroke="#222" stroke-width="1.3" />
<line x1="330.53999999999996" y1="444.5" x2="337.74" y2="444.5" stroke="#222" stroke-width="1.3" />
<line x1="330.53999999999996" y1="459.5" x2="337.74" y2="459.5" stroke="#222" stroke-width="1.3" />
<circle cx="334.1" cy="445" r="1.95" fill="#222"/>
<circle cx="334.1" cy="453" r="1.95" fill="#222"/>
<circle cx="334.1" cy="459" r="1.95" fill="#222"/>
<text transform="translate(338.9,492.8) rotate(-90) scale(1,1.012)" font-size="13.2" text-anchor="end" fill="#2b2b2b">G3BP1</text>
<text transform="translate(334.74,441.9) scale(1,1.012)" font-size="10" text-anchor="middle" font-weight="normal" fill="#2b2b2b" letter-spacing="1.2">***</text>
<rect x="344.3" y="477.4" width="9.8" height="11.2" fill="#e5e6e8" stroke="#2e2e2e" stroke-width="1.1"/>
<line x1="349.21999999999997" y1="472.5" x2="349.21999999999997" y2="478.5" stroke="#222" stroke-width="1.3" />
<line x1="345.61999999999995" y1="472.5" x2="352.82" y2="472.5" stroke="#222" stroke-width="1.3" />
<line x1="345.61999999999995" y1="478.5" x2="352.82" y2="478.5" stroke="#222" stroke-width="1.3" />
<circle cx="347.2" cy="473" r="1.95" fill="#222"/>
<circle cx="351.2" cy="475" r="1.95" fill="#222"/>
<circle cx="349.2" cy="478" r="1.95" fill="#222"/>
<text transform="translate(354.0,492.8) rotate(-90) scale(1,1.012)" font-size="13.2" text-anchor="end" fill="#2b2b2b">G3BP2</text>
<text transform="translate(349.82,471.1) scale(1,1.012)" font-size="10" text-anchor="middle" font-weight="normal" fill="#2b2b2b" letter-spacing="1.2">***</text>
<text transform="translate(203.6,565.2) scale(1,1.012)" font-size="13.2" text-anchor="middle" font-weight="normal" fill="#2b2b2b" >CRISPR KO</text>
<text transform="translate(378.2,361.3) scale(1,1.012)" font-size="15.5" text-anchor="start" font-weight="bold" fill="#1a1a1a" >e</text>
<line x1="429.1" y1="377.4" x2="429.1" y2="506.2" stroke="#262626" stroke-width="1.6" />
<line x1="424" y1="505.6" x2="591.4" y2="505.6" stroke="#262626" stroke-width="1.6" />
<line x1="424" y1="505.6" x2="429.1" y2="505.6" stroke="#262626" stroke-width="1.4" />
<text transform="translate(422.8,510.20000000000005) scale(1,1.012)" font-size="13.2" text-anchor="end" font-weight="normal" fill="#2b2b2b" >0</text>
<line x1="424" y1="484.2275" x2="429.1" y2="484.2275" stroke="#262626" stroke-width="1.4" />
<text transform="translate(422.8,488.82750000000004) scale(1,1.012)" font-size="13.2" text-anchor="end" font-weight="normal" fill="#2b2b2b" >25</text>
<line x1="424" y1="462.855" x2="429.1" y2="462.855" stroke="#262626" stroke-width="1.4" />
<text transform="translate(422.8,467.45500000000004) scale(1,1.012)" font-size="13.2" text-anchor="end" font-weight="normal" fill="#2b2b2b" >50</text>
<line x1="424" y1="441.4825" x2="429.1" y2="441.4825" stroke="#262626" stroke-width="1.4" />
<text transform="translate(422.8,446.08250000000004) scale(1,1.012)" font-size="13.2" text-anchor="end" font-weight="normal" fill="#2b2b2b" >75</text>
<line x1="424" y1="420.11" x2="429.1" y2="420.11" stroke="#262626" stroke-width="1.4" />
<text transform="translate(422.8,424.71000000000004) scale(1,1.012)" font-size="13.2" text-anchor="end" font-weight="normal" fill="#2b2b2b" >100</text>
<line x1="424" y1="398.7375" x2="429.1" y2="398.7375" stroke="#262626" stroke-width="1.4" />
<text transform="translate(422.8,403.33750000000003) scale(1,1.012)" font-size="13.2" text-anchor="end" font-weight="normal" fill="#2b2b2b" >125</text>
<line x1="424" y1="377.365" x2="429.1" y2="377.365" stroke="#262626" stroke-width="1.4" />
<text transform="translate(422.8,381.96500000000003) scale(1,1.012)" font-size="13.2" text-anchor="end" font-weight="normal" fill="#2b2b2b" >150</text>
<line x1="429.1" y1="505.6" x2="429.1" y2="510" stroke="#262626" stroke-width="1.4" />
<text transform="translate(429.1,522.2) scale(1,1.012)" font-size="13.2" text-anchor="middle" font-weight="normal" fill="#2b2b2b" >0</text>
<line x1="456.15000000000003" y1="505.6" x2="456.15000000000003" y2="510" stroke="#262626" stroke-width="1.4" />
<text transform="translate(456.15000000000003,522.2) scale(1,1.012)" font-size="13.2" text-anchor="middle" font-weight="normal" fill="#2b2b2b" >5</text>
<line x1="483.20000000000005" y1="505.6" x2="483.20000000000005" y2="510" stroke="#262626" stroke-width="1.4" />
<text transform="translate(483.20000000000005,522.2) scale(1,1.012)" font-size="13.2" text-anchor="middle" font-weight="normal" fill="#2b2b2b" >10</text>
<line x1="510.25" y1="505.6" x2="510.25" y2="510" stroke="#262626" stroke-width="1.4" />
<text transform="translate(510.25,522.2) scale(1,1.012)" font-size="13.2" text-anchor="middle" font-weight="normal" fill="#2b2b2b" >15</text>
<line x1="537.3000000000001" y1="505.6" x2="537.3000000000001" y2="510" stroke="#262626" stroke-width="1.4" />
<text transform="translate(537.3000000000001,522.2) scale(1,1.012)" font-size="13.2" text-anchor="middle" font-weight="normal" fill="#2b2b2b" >20</text>
<line x1="564.35" y1="505.6" x2="564.35" y2="510" stroke="#262626" stroke-width="1.4" />
<text transform="translate(564.35,522.2) scale(1,1.012)" font-size="13.2" text-anchor="middle" font-weight="normal" fill="#2b2b2b" >25</text>
<line x1="591.4000000000001" y1="505.6" x2="591.4000000000001" y2="510" stroke="#262626" stroke-width="1.4" />
<text transform="translate(591.4000000000001,522.2) scale(1,1.012)" font-size="13.2" text-anchor="middle" font-weight="normal" fill="#2b2b2b" >30</text>
<text transform="translate(510.2,539.5) scale(1,1.012)" font-size="13.2" text-anchor="middle" font-weight="normal" fill="#2b2b2b" >Hours post-exposure</text>
<text transform="translate(430.8,366.3) scale(1,1.012)" font-size="12.95" text-anchor="start" font-weight="normal" fill="#2b2b2b" >Huh7.5.1 + CHIKV infection</text>
<text transform="translate(393.7,440.8) rotate(-90) scale(1,1.012)" font-size="13.2" text-anchor="middle" fill="#2b2b2b">Viral RNA (% of WT)</text>
<polyline points="467.0,420.4 526.5,420.6 564.4,420.6" fill="none" stroke="#2a2a2a" stroke-width="1.05"/>
<polyline points="467.0,479 526.5,461.4 564.4,454" fill="none" stroke="#2a2a2a" stroke-width="1.05"/>
<polyline points="467.0,485.6 526.5,482 564.4,465" fill="none" stroke="#2a2a2a" stroke-width="1.05"/>
<polyline points="467.0,470 526.5,413 564.4,414.4" fill="none" stroke="#2a2a2a" stroke-width="1.05"/>
<polyline points="467.0,504 526.5,502 564.4,500.6" fill="none" stroke="#2a2a2a" stroke-width="1.05"/>
<line x1="526.48" y1="407.5" x2="526.48" y2="418.5" stroke="#2a2a2a" stroke-width="1.2" />
<line x1="523.28" y1="407.5" x2="529.6800000000001" y2="407.5" stroke="#2a2a2a" stroke-width="1.2" />
<line x1="523.28" y1="418.5" x2="529.6800000000001" y2="418.5" stroke="#2a2a2a" stroke-width="1.2" />
<line x1="564.35" y1="396.5" x2="564.35" y2="432.5" stroke="#2a2a2a" stroke-width="1.2" />
<line x1="561.15" y1="396.5" x2="567.5500000000001" y2="396.5" stroke="#2a2a2a" stroke-width="1.2" />
<line x1="561.15" y1="432.5" x2="567.5500000000001" y2="432.5" stroke="#2a2a2a" stroke-width="1.2" />
<line x1="564.35" y1="448.5" x2="564.35" y2="458.5" stroke="#2a2a2a" stroke-width="1.2" />
<line x1="561.15" y1="448.5" x2="567.5500000000001" y2="448.5" stroke="#2a2a2a" stroke-width="1.2" />
<line x1="561.15" y1="458.5" x2="567.5500000000001" y2="458.5" stroke="#2a2a2a" stroke-width="1.2" />
<line x1="564.35" y1="458.5" x2="564.35" y2="472.5" stroke="#2a2a2a" stroke-width="1.2" />
<line x1="561.15" y1="458.5" x2="567.5500000000001" y2="458.5" stroke="#2a2a2a" stroke-width="1.2" />
<line x1="561.15" y1="472.5" x2="567.5500000000001" y2="472.5" stroke="#2a2a2a" stroke-width="1.2" />
<circle cx="467.0" cy="420.4" r="2.9" fill="#222"/>
<circle cx="526.5" cy="420.6" r="2.9" fill="#222"/>
<circle cx="564.4" cy="420.6" r="2.9" fill="#222"/>
<polygon points="467.0,475.7 470.3,479 467.0,482.3 463.7,479" fill="#fff" stroke="#2a2a2a" stroke-width="1"/>
<polygon points="526.5,458.09999999999997 529.8,461.4 526.5,464.7 523.2,461.4" fill="#fff" stroke="#2a2a2a" stroke-width="1"/>
<polygon points="564.4,450.7 567.6,454 564.4,457.3 561.1,454" fill="#fff" stroke="#2a2a2a" stroke-width="1"/>
<polygon points="463.7,483.0 470.3,483.0 467.0,488.8" fill="#fff" stroke="#2a2a2a" stroke-width="1"/>
<polygon points="523.2,479.4 529.8,479.4 526.5,485.2" fill="#fff" stroke="#2a2a2a" stroke-width="1"/>
<polygon points="561.1,462.4 567.6,462.4 564.4,468.2" fill="#fff" stroke="#2a2a2a" stroke-width="1"/>
<rect x="464.1" y="467.1" width="5.8" height="5.8" fill="#fff" stroke="#2a2a2a" stroke-width="1.1"/>
<rect x="523.6" y="410.1" width="5.8" height="5.8" fill="#fff" stroke="#2a2a2a" stroke-width="1.1"/>
<rect x="561.5" y="411.5" width="5.8" height="5.8" fill="#fff" stroke="#2a2a2a" stroke-width="1.1"/>
<polygon points="467.0,500.7 470.3,506.6 463.7,506.6" fill="#fff" stroke="#2a2a2a" stroke-width="1"/>
<polygon points="526.5,498.7 529.8,504.6 523.2,504.6" fill="#fff" stroke="#2a2a2a" stroke-width="1"/>
<polygon points="564.4,497.3 567.6,503.20000000000005 561.1,503.20000000000005" fill="#fff" stroke="#2a2a2a" stroke-width="1"/>
<line x1="588" y1="408.8" x2="606" y2="408.8" stroke="#2a2a2a" stroke-width="1.2" />
<circle cx="597.0" cy="408.8" r="2.9" fill="#222"/>
<text transform="translate(610.2,412.8) scale(1,1.012)" font-size="13.2" text-anchor="start" font-weight="normal" fill="#2b2b2b" >NT control</text>
<line x1="588" y1="424.8" x2="606" y2="424.8" stroke="#2a2a2a" stroke-width="1.2" />
<polygon points="597.0,421.5 600.3,424.8 597.0,428.1 593.7,424.8" fill="#fff" stroke="#2a2a2a" stroke-width="1"/>
<text transform="translate(610.2,428.8) scale(1,1.012)" font-size="13.2" text-anchor="start" font-weight="normal" fill="#2b2b2b" >CSDE1 KO</text>
<line x1="588" y1="440.8" x2="606" y2="440.8" stroke="#2a2a2a" stroke-width="1.2" />
<polygon points="593.7,438.2 600.3,438.2 597.0,444.0" fill="#fff" stroke="#2a2a2a" stroke-width="1"/>
<text transform="translate(610.2,444.8) scale(1,1.012)" font-size="13.2" text-anchor="start" font-weight="normal" fill="#2b2b2b" >GOLGA7 KO</text>
<line x1="588" y1="456.8" x2="606" y2="456.8" stroke="#2a2a2a" stroke-width="1.2" />
<rect x="594.1" y="453.90000000000003" width="5.8" height="5.8" fill="#fff" stroke="#2a2a2a" stroke-width="1.1"/>
<text transform="translate(610.2,460.8) scale(1,1.012)" font-size="13.2" text-anchor="start" font-weight="normal" fill="#2b2b2b" >G3BP1 KO</text>
<line x1="588" y1="472.8" x2="606" y2="472.8" stroke="#2a2a2a" stroke-width="1.2" />
<polygon points="597.0,469.5 600.3,475.40000000000003 593.7,475.40000000000003" fill="#fff" stroke="#2a2a2a" stroke-width="1"/>
<text transform="translate(610.2,476.8) scale(1,1.012)" font-size="13.2" text-anchor="start" font-weight="normal" fill="#2b2b2b" >G3BP2 KO</text>
</svg></body></html>
